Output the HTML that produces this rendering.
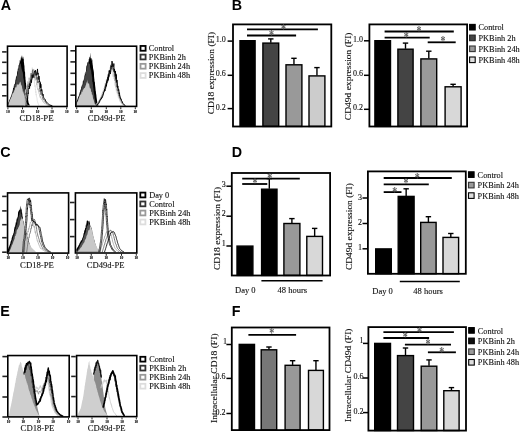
<!DOCTYPE html>
<html><head><meta charset="utf-8"><title>Figure</title>
<style>
html,body{margin:0;padding:0;background:#fff;}
body{width:520px;height:432px;overflow:hidden;}
svg{display:block;filter:blur(0.35px);}
svg text{font-family:"Liberation Serif",serif;fill:#111;stroke:#111;stroke-width:0.12px;}
svg text.st{fill:#4a4a4a;stroke:#4a4a4a;stroke-width:0.15px;}
svg text.pl{font-family:"Liberation Sans",sans-serif;font-weight:bold;fill:#000;stroke:none;}
</style></head><body>
<svg width="520" height="432" viewBox="0 0 520 432">
<rect x="0" y="0" width="520" height="432" fill="#fff"/>
<g>
<text class="pl" x="0.8" y="10.2" font-size="14.3">A</text>
<text class="pl" x="231.8" y="10.1" font-size="14.3">B</text>
<text class="pl" x="0.2" y="156.5" font-size="14.3">C</text>
<text class="pl" x="231.7" y="156.5" font-size="14.3">D</text>
<text class="pl" x="0.2" y="315.9" font-size="14.3">E</text>
<text class="pl" x="231.7" y="315.9" font-size="14.3">F</text>
<path d="M8.00,105.60 L8.00,105.60 L8.10,104.67 L8.20,103.78 L8.30,102.93 L8.63,101.89 L8.96,101.37 L9.29,100.25 L9.62,99.55 L9.95,99.01 L10.28,97.75 L10.61,97.45 L10.94,96.16 L11.27,95.83 L11.60,95.01 L11.86,93.63 L12.12,92.06 L12.38,92.41 L12.63,91.37 L12.89,89.68 L13.15,88.07 L13.41,87.98 L13.67,87.52 L13.92,85.17 L14.18,86.69 L14.44,83.60 L14.70,84.31 L14.89,83.88 L15.08,83.11 L15.27,81.65 L15.47,79.07 L15.66,80.35 L15.85,78.06 L16.04,76.94 L16.23,77.06 L16.43,75.49 L16.62,76.56 L16.81,75.73 L17.00,74.27 L17.23,71.29 L17.46,71.51 L17.69,71.14 L17.92,68.95 L18.15,68.68 L18.38,68.55 L18.61,65.12 L18.84,64.67 L19.07,66.19 L19.30,63.49 L19.56,62.88 L19.81,59.99 L20.07,59.92 L20.33,61.65 L20.59,56.59 L20.84,61.00 L21.10,58.27 L21.40,55.18 L21.70,58.20 L22.00,55.07 L22.50,59.25 L23.00,56.43 L23.27,56.96 L23.53,59.26 L23.80,58.58 L23.89,62.85 L23.98,61.64 L24.07,63.20 L24.16,64.26 L24.25,65.89 L24.35,64.89 L24.44,65.38 L24.53,68.71 L24.62,68.77 L24.71,72.56 L24.80,70.59 L24.90,71.83 L25.00,71.35 L25.10,73.09 L25.20,76.25 L25.30,76.80 L25.40,76.71 L25.50,80.03 L25.60,79.41 L25.70,81.37 L25.80,82.46 L25.90,83.56 L26.01,82.38 L26.12,85.20 L26.23,85.80 L26.34,86.37 L26.45,86.15 L26.55,89.01 L26.66,89.12 L26.77,89.88 L26.88,90.21 L26.99,91.35 L27.10,92.29 L27.24,94.15 L27.37,94.82 L27.51,95.79 L27.65,96.04 L27.78,96.90 L27.92,98.64 L28.05,99.47 L28.19,100.29 L28.33,101.16 L28.46,101.91 L28.60,102.77 L29.07,103.79 L29.53,104.67 L30.00,105.60 L30.00,105.60 Z" fill="#000" stroke="none" stroke-width="0.8" stroke-linejoin="round"/>
<path d="M8.20,105.60 L8.20,105.60 L8.47,104.67 L8.73,103.90 L9.00,102.84 L9.31,101.99 L9.62,100.96 L9.93,99.69 L10.24,99.02 L10.55,98.33 L10.85,97.29 L11.16,96.28 L11.47,96.45 L11.78,94.02 L12.09,93.31 L12.40,92.17 L12.66,91.39 L12.92,91.47 L13.18,90.57 L13.43,90.53 L13.69,88.10 L13.95,88.99 L14.21,88.14 L14.47,86.81 L14.72,86.13 L14.98,84.61 L15.24,84.87 L15.50,84.26 L15.69,82.80 L15.88,82.18 L16.07,80.15 L16.27,80.89 L16.46,75.91 L16.65,76.27 L16.84,77.79 L17.03,76.40 L17.23,75.02 L17.42,74.06 L17.61,74.60 L17.80,69.41 L18.01,67.47 L18.23,69.74 L18.44,68.65 L18.66,70.33 L18.87,69.30 L19.09,66.69 L19.30,66.30 L20.80,63.07 L21.10,68.66 L21.40,70.46 L21.70,65.19 L22.00,68.90 L22.30,72.21 L22.43,70.64 L22.56,74.61 L22.69,72.54 L22.82,70.91 L22.95,72.51 L23.08,74.36 L23.21,77.53 L23.34,77.87 L23.47,79.71 L23.60,77.73 L23.70,79.78 L23.80,79.64 L23.90,82.50 L24.00,83.84 L24.10,82.45 L24.20,82.79 L24.30,84.26 L24.40,85.41 L24.50,86.35 L24.60,87.57 L24.73,90.10 L24.87,90.29 L25.00,91.71 L25.13,93.46 L25.27,94.40 L25.40,94.83 L25.53,95.77 L25.67,95.95 L25.80,96.53 L25.93,98.20 L26.07,98.56 L26.20,99.52 L26.33,100.56 L26.47,101.96 L26.60,102.94 L26.73,103.82 L26.87,104.67 L27.00,105.60 L27.00,105.60 Z" fill="#444" stroke="none" stroke-width="0.8" stroke-linejoin="round"/>
<path d="M8.20,105.60 L8.20,105.60 L8.40,104.60 L8.60,103.71 L8.97,102.89 L9.35,101.79 L9.72,100.69 L10.10,99.82 L10.47,99.31 L10.85,98.23 L11.22,97.14 L11.60,97.35 L11.99,95.56 L12.38,94.21 L12.76,93.54 L13.15,92.71 L13.54,92.44 L13.92,92.32 L14.31,89.90 L14.70,90.27 L15.14,88.09 L15.57,86.69 L16.01,87.65 L16.44,86.82 L16.88,84.09 L17.31,84.01 L17.75,85.25 L18.52,84.58 L19.30,83.64 L20.05,81.50 L20.80,82.83 L21.10,86.15 L21.40,84.58 L21.70,84.97 L22.00,86.94 L22.30,88.76 L22.53,89.03 L22.76,91.05 L22.99,92.17 L23.21,90.64 L23.44,92.32 L23.67,93.47 L23.90,93.55 L24.15,95.42 L24.40,95.58 L24.65,96.61 L24.90,98.39 L25.15,99.19 L25.40,100.01 L25.80,100.97 L26.20,101.64 L26.60,102.77 L27.00,103.63 L27.50,104.60 L28.00,105.60 L28.00,105.60 Z" fill="#c8c8c8" stroke="none" stroke-width="0.8" stroke-linejoin="round"/>
<path d="M24.50,105.60 L24.74,104.64 L24.98,103.84 L25.22,102.46 L25.46,101.88 L25.70,100.84 L25.94,99.73 L26.18,98.28 L26.42,98.05 L26.66,96.17 L26.90,96.00 L27.13,95.01 L27.36,94.10 L27.59,94.55 L27.82,92.49 L28.05,92.39 L28.28,92.13 L28.51,88.50 L28.74,89.86 L28.97,87.82 L29.20,85.87 L29.35,85.66 L29.50,85.79 L29.65,84.01 L29.80,82.93 L29.95,80.84 L30.10,83.50 L30.25,80.17 L30.40,81.04 L30.55,80.02 L30.70,76.13 L30.85,76.85 L31.00,75.60 L31.19,73.28 L31.37,71.19 L31.56,73.49 L31.74,71.29 L31.93,71.10 L32.11,70.08 L32.30,67.66 L32.60,70.52 L32.90,70.85 L33.20,72.21 L33.50,69.83 L33.61,72.53 L33.72,72.29 L33.83,72.86 L33.94,78.21 L34.05,77.23 L34.16,75.88 L34.27,77.48 L34.38,82.37 L34.49,83.30 L34.60,82.50 L34.72,85.25 L34.83,85.31 L34.95,86.95 L35.06,85.22 L35.18,85.72 L35.29,86.28 L35.41,90.05 L35.52,88.95 L35.64,90.12 L35.75,92.69 L35.87,91.42 L35.98,92.21 L36.10,95.09 L36.29,94.33 L36.48,96.51 L36.66,97.27 L36.85,97.40 L37.04,98.68 L37.23,100.51 L37.41,101.12 L37.60,101.99 L37.95,103.00 L38.30,103.92 L38.65,104.70 L39.00,105.60" fill="none" stroke="#ddd" stroke-width="0.8" stroke-linejoin="round" stroke-linecap="round"/>
<path d="M24.10,105.60 L24.22,104.58 L24.33,103.68 L24.45,102.29 L24.57,102.20 L24.68,100.39 L24.80,99.59 L24.89,99.71 L24.98,98.04 L25.07,96.22 L25.16,95.62 L25.24,96.38 L25.33,91.74 L25.42,91.51 L25.51,89.57 L25.60,92.95 L25.89,91.31 L26.17,91.81 L26.46,86.55 L26.75,88.84 L27.04,88.98 L27.32,86.15 L27.61,81.70 L27.90,81.39 L28.28,84.92 L28.67,85.06 L29.05,77.75 L29.43,79.87 L29.82,77.82 L30.20,82.69 L30.73,82.20 L31.27,75.06 L31.80,76.80 L32.27,79.73 L32.75,69.42 L33.23,71.85 L33.70,68.98 L34.70,78.53 L35.00,70.99 L35.30,80.35 L35.60,73.09 L35.79,78.11 L35.98,80.07 L36.16,78.93 L36.35,76.50 L36.54,83.18 L36.73,85.14 L36.91,82.74 L37.10,85.84 L37.29,87.59 L37.48,87.99 L37.66,89.51 L37.85,89.29 L38.04,89.40 L38.23,90.27 L38.41,88.60 L38.60,91.99 L38.89,91.80 L39.18,94.16 L39.46,94.24 L39.75,96.37 L40.04,96.28 L40.33,97.87 L40.61,96.48 L40.90,97.93 L41.42,99.62 L41.93,99.76 L42.45,99.76 L42.97,101.94 L43.48,101.79 L44.00,103.06 L44.75,103.51 L45.50,103.83 L46.25,104.53 L47.00,105.04 L48.10,105.32 L49.20,105.60" fill="none" stroke="#bbb" stroke-width="0.8" stroke-linejoin="round" stroke-linecap="round"/>
<path d="M25.50,105.60 L25.60,104.66 L25.70,103.79 L25.80,102.76 L25.90,101.58 L26.00,100.09 L26.10,100.26 L26.20,98.23 L26.28,97.53 L26.36,96.76 L26.44,96.55 L26.52,95.87 L26.60,96.16 L26.68,95.06 L26.76,94.53 L26.84,90.46 L26.92,92.00 L27.00,91.67 L27.29,91.30 L27.57,85.77 L27.86,84.52 L28.15,84.82 L28.44,86.63 L28.73,86.05 L29.01,84.79 L29.30,82.53 L29.68,84.23 L30.07,80.88 L30.45,81.68 L30.83,74.21 L31.22,73.06 L31.60,76.32 L32.13,78.48 L32.67,69.75 L33.20,75.93 L33.68,74.50 L34.15,77.82 L34.62,72.39 L35.10,70.32 L35.60,70.72 L36.10,75.09 L36.40,72.48 L36.70,79.15 L37.00,77.17 L37.19,79.89 L37.38,77.53 L37.56,81.99 L37.75,82.97 L37.94,81.16 L38.12,82.68 L38.31,80.52 L38.50,81.96 L38.69,81.17 L38.88,82.91 L39.06,83.49 L39.25,83.38 L39.44,87.68 L39.62,88.98 L39.81,85.99 L40.00,91.75 L40.29,89.59 L40.58,91.03 L40.86,94.76 L41.15,92.24 L41.44,93.10 L41.73,95.13 L42.01,95.79 L42.30,96.61 L42.82,99.30 L43.33,99.21 L43.85,100.14 L44.37,100.49 L44.88,101.52 L45.40,102.48 L46.15,103.28 L46.90,103.66 L47.65,104.45 L48.40,105.00 L49.50,105.30 L50.60,105.60" fill="none" stroke="#666" stroke-width="0.8" stroke-linejoin="round" stroke-linecap="round"/>
<path d="M26.90,105.60 L27.00,104.66 L27.10,103.61 L27.20,102.60 L27.30,102.14 L27.40,101.57 L27.50,100.58 L27.60,99.28 L27.68,99.00 L27.76,96.29 L27.84,96.07 L27.92,94.92 L28.00,93.96 L28.08,92.81 L28.16,92.60 L28.24,93.78 L28.32,89.36 L28.40,88.59 L28.69,88.83 L28.97,87.71 L29.26,86.03 L29.55,88.62 L29.84,83.55 L30.12,85.74 L30.41,86.09 L30.70,83.89 L31.08,79.58 L31.47,82.69 L31.85,77.57 L32.23,74.64 L32.62,77.75 L33.00,77.84 L33.53,75.99 L34.07,73.06 L34.60,71.19 L35.08,71.67 L35.55,70.42 L36.02,75.46 L36.50,73.87 L37.00,73.39 L37.50,68.95 L37.80,74.53 L38.10,72.90 L38.40,79.25 L38.59,79.62 L38.77,78.57 L38.96,75.96 L39.15,76.79 L39.34,77.93 L39.52,81.93 L39.71,81.13 L39.90,82.45 L40.09,83.38 L40.27,86.63 L40.46,82.56 L40.65,87.82 L40.84,84.20 L41.02,85.52 L41.21,91.34 L41.40,90.00 L41.69,89.30 L41.98,89.72 L42.26,92.89 L42.55,94.50 L42.84,95.59 L43.12,94.20 L43.41,97.34 L43.70,97.30 L44.22,99.18 L44.73,99.22 L45.25,99.39 L45.77,101.55 L46.28,101.55 L46.80,102.79 L47.55,103.08 L48.30,103.79 L49.05,104.45 L49.80,105.00 L50.90,105.30 L52.00,105.60" fill="none" stroke="#000" stroke-width="0.9" stroke-linejoin="round" stroke-linecap="round"/>
<rect x="7.50" y="46.20" width="59.60" height="60.30" fill="none" stroke="#000" stroke-width="1.6"/>
<line x1="2.1000000000000005" y1="51.9" x2="6.7" y2="51.9" stroke="#222" stroke-width="1.6"/>
<line x1="2.1000000000000005" y1="62.3" x2="6.7" y2="62.3" stroke="#222" stroke-width="1.6"/>
<line x1="2.1000000000000005" y1="73.3" x2="6.7" y2="73.3" stroke="#222" stroke-width="1.6"/>
<line x1="2.1000000000000005" y1="84.8" x2="6.7" y2="84.8" stroke="#222" stroke-width="1.6"/>
<line x1="2.1000000000000005" y1="95.8" x2="6.7" y2="95.8" stroke="#222" stroke-width="1.6"/>
<line x1="7.9" y1="107.3" x2="7.9" y2="109.3" stroke="#222" stroke-width="1.0"/>
<text x="7.9" y="112.7" font-size="3.6" font-weight="bold" text-anchor="middle" style="fill:#000">10</text>
<line x1="22.5" y1="107.3" x2="22.5" y2="109.3" stroke="#222" stroke-width="1.0"/>
<text x="22.5" y="112.7" font-size="3.6" font-weight="bold" text-anchor="middle" style="fill:#000">10</text>
<line x1="37.5" y1="107.3" x2="37.5" y2="109.3" stroke="#222" stroke-width="1.0"/>
<text x="37.5" y="112.7" font-size="3.6" font-weight="bold" text-anchor="middle" style="fill:#000">10</text>
<line x1="52" y1="107.3" x2="52" y2="109.3" stroke="#222" stroke-width="1.0"/>
<text x="52" y="112.7" font-size="3.6" font-weight="bold" text-anchor="middle" style="fill:#000">10</text>
<line x1="66.7" y1="107.3" x2="66.7" y2="109.3" stroke="#222" stroke-width="1.0"/>
<text x="66.7" y="112.7" font-size="3.6" font-weight="bold" text-anchor="middle" style="fill:#000">10</text>
<path d="M76.20,105.40 L76.20,105.40 L76.27,104.27 L76.33,103.21 L76.40,101.82 L76.75,101.06 L77.10,100.43 L77.45,99.56 L77.80,98.21 L78.15,97.30 L78.50,96.54 L78.85,95.83 L79.20,94.63 L79.50,93.77 L79.80,91.99 L80.10,92.56 L80.40,90.25 L80.70,89.13 L81.00,89.74 L81.30,87.02 L81.60,86.56 L81.90,85.15 L82.20,85.81 L82.43,84.69 L82.66,83.73 L82.89,81.00 L83.12,81.31 L83.35,81.13 L83.58,80.00 L83.81,79.63 L84.04,79.57 L84.27,78.51 L84.50,74.81 L84.73,76.04 L84.96,72.47 L85.19,74.40 L85.42,73.44 L85.65,71.45 L85.88,72.01 L86.11,70.26 L86.34,66.53 L86.57,65.91 L86.80,65.31 L87.09,65.27 L87.38,62.80 L87.66,61.64 L87.95,62.83 L88.24,60.90 L88.52,63.83 L88.81,58.87 L89.10,59.60 L89.40,56.87 L89.70,56.67 L90.00,58.09 L90.30,58.81 L90.60,52.16 L91.05,58.67 L91.50,57.68 L91.73,59.57 L91.97,60.92 L92.20,59.39 L92.33,58.94 L92.45,63.94 L92.58,62.61 L92.70,65.45 L92.83,64.95 L92.95,66.70 L93.08,68.73 L93.20,69.61 L93.33,70.24 L93.45,67.80 L93.58,70.62 L93.70,72.75 L93.80,70.71 L93.89,71.35 L93.99,74.62 L94.08,76.82 L94.18,77.54 L94.27,78.85 L94.37,78.87 L94.46,80.69 L94.56,81.12 L94.65,82.00 L94.75,81.99 L94.86,82.04 L94.98,83.45 L95.09,85.35 L95.20,86.31 L95.32,87.01 L95.43,88.32 L95.55,89.36 L95.66,90.87 L95.77,91.38 L95.89,91.10 L96.00,93.52 L96.12,93.80 L96.24,94.54 L96.36,95.16 L96.48,96.87 L96.60,97.69 L96.72,98.59 L96.84,99.35 L96.96,100.22 L97.08,100.83 L97.20,101.84 L97.53,102.72 L97.85,103.81 L98.17,104.55 L98.50,105.40 L98.50,105.40 Z" fill="#000" stroke="none" stroke-width="0.8" stroke-linejoin="round"/>
<path d="M76.40,105.40 L76.40,105.40 L76.70,104.10 L77.00,103.01 L77.30,101.79 L77.60,100.74 L77.90,100.18 L78.20,99.19 L78.50,99.02 L78.80,97.67 L79.10,95.98 L79.40,95.21 L79.70,94.22 L80.00,93.05 L80.27,93.64 L80.55,93.09 L80.82,92.13 L81.09,90.30 L81.36,88.94 L81.64,87.24 L81.91,86.94 L82.18,86.24 L82.45,84.91 L82.73,85.06 L83.00,83.81 L83.23,84.90 L83.45,81.03 L83.68,82.41 L83.91,78.51 L84.14,78.79 L84.36,79.47 L84.59,79.45 L84.82,77.98 L85.05,75.11 L85.27,73.84 L85.50,76.14 L85.69,75.55 L85.88,72.08 L86.07,70.84 L86.26,71.13 L86.44,71.30 L86.63,68.01 L86.82,71.02 L87.01,68.23 L87.20,66.27 L88.30,61.30 L89.05,64.28 L89.80,63.34 L90.07,67.17 L90.33,69.75 L90.60,70.62 L90.87,67.13 L91.13,69.76 L91.40,73.13 L91.51,75.64 L91.62,73.83 L91.73,73.79 L91.84,76.06 L91.95,77.78 L92.05,76.63 L92.16,76.34 L92.27,80.53 L92.38,82.25 L92.49,81.78 L92.60,82.33 L92.71,82.19 L92.82,84.96 L92.93,83.65 L93.04,84.80 L93.15,86.53 L93.25,88.39 L93.36,86.95 L93.47,89.81 L93.58,89.32 L93.69,91.77 L93.80,92.66 L93.95,92.43 L94.10,94.41 L94.25,94.17 L94.40,96.01 L94.55,97.46 L94.70,98.36 L94.85,99.09 L95.00,99.84 L95.17,100.54 L95.33,102.02 L95.50,102.75 L95.67,103.69 L95.83,104.50 L96.00,105.40 L96.00,105.40 Z" fill="#444" stroke="none" stroke-width="0.8" stroke-linejoin="round"/>
<path d="M76.40,105.40 L76.40,105.40 L76.65,104.10 L76.90,102.58 L77.28,102.18 L77.66,101.46 L78.04,100.68 L78.42,99.55 L78.80,98.12 L79.18,97.24 L79.56,96.57 L79.94,95.26 L80.32,94.47 L80.70,94.73 L81.12,94.21 L81.54,91.74 L81.97,91.28 L82.39,92.21 L82.81,89.74 L83.23,89.68 L83.66,88.86 L84.08,88.17 L84.50,87.88 L85.02,87.61 L85.53,85.79 L86.05,84.66 L86.57,81.42 L87.08,83.83 L87.60,79.44 L87.98,83.49 L88.37,83.76 L88.75,82.89 L89.13,83.84 L89.52,86.13 L89.90,88.28 L90.19,87.83 L90.48,89.07 L90.76,88.49 L91.05,91.40 L91.34,91.88 L91.62,91.60 L91.91,94.44 L92.20,94.57 L92.44,94.78 L92.69,95.84 L92.93,97.86 L93.18,98.73 L93.42,99.55 L93.67,99.60 L93.91,101.12 L94.16,101.71 L94.40,102.62 L94.77,103.72 L95.13,104.53 L95.50,105.40 L95.50,105.40 Z" fill="#c8c8c8" stroke="none" stroke-width="0.8" stroke-linejoin="round"/>
<path d="M95.20,105.40 L95.87,104.64 L96.53,103.97 L97.20,102.84 L97.74,102.15 L98.29,101.63 L98.83,100.23 L99.37,99.92 L99.91,99.17 L100.46,98.89 L101.00,96.48 L101.34,95.13 L101.69,94.90 L102.03,93.08 L102.38,94.98 L102.72,93.49 L103.07,91.79 L103.41,89.05 L103.76,88.07 L104.10,89.52 L104.36,89.27 L104.61,87.57 L104.87,86.37 L105.12,83.18 L105.38,86.28 L105.63,81.90 L105.89,81.31 L106.14,79.83 L106.40,79.17 L106.69,79.29 L106.98,80.28 L107.26,79.46 L107.55,78.27 L107.84,74.15 L108.12,78.73 L108.41,76.94 L108.70,71.42 L109.08,74.72 L109.45,75.41 L109.83,74.80 L110.20,69.00 L111.00,70.22 L111.80,64.25 L112.03,66.17 L112.27,66.20 L112.50,73.66 L112.73,76.08 L112.97,76.77 L113.20,74.26 L113.38,73.46 L113.56,76.44 L113.73,78.92 L113.91,78.41 L114.09,77.85 L114.27,78.40 L114.44,78.84 L114.62,79.16 L114.80,81.25 L114.97,85.38 L115.13,82.13 L115.30,86.07 L115.47,85.51 L115.63,87.38 L115.80,86.54 L115.97,89.89 L116.13,90.52 L116.30,91.36 L116.56,92.55 L116.81,90.81 L117.07,92.80 L117.32,94.48 L117.58,95.14 L117.83,94.49 L118.09,96.63 L118.34,98.11 L118.60,97.88 L119.06,99.14 L119.52,99.65 L119.98,101.68 L120.44,102.20 L120.90,102.92 L121.67,103.74 L122.43,104.64 L123.20,105.40" fill="none" stroke="#ddd" stroke-width="0.8" stroke-linejoin="round" stroke-linecap="round"/>
<path d="M95.90,105.40 L96.57,104.59 L97.23,103.61 L97.90,103.28 L98.38,102.36 L98.85,101.78 L99.33,100.97 L99.80,99.07 L100.28,98.83 L100.75,97.35 L101.23,97.64 L101.70,95.71 L102.01,95.85 L102.32,95.54 L102.63,93.19 L102.94,91.74 L103.25,93.69 L103.56,91.13 L103.87,90.17 L104.18,90.96 L104.49,89.52 L104.80,89.74 L105.06,88.58 L105.31,87.44 L105.57,84.72 L105.82,83.45 L106.08,85.08 L106.33,85.37 L106.59,82.54 L106.84,79.32 L107.10,81.70 L107.36,80.00 L107.61,79.97 L107.87,74.72 L108.12,75.70 L108.38,78.69 L108.63,77.61 L108.89,74.35 L109.14,72.17 L109.40,70.50 L109.70,74.60 L110.00,73.16 L110.30,67.30 L110.60,69.19 L110.90,69.63 L111.70,68.41 L112.50,62.19 L112.73,69.62 L112.97,68.05 L113.20,70.99 L113.43,71.35 L113.67,68.28 L113.90,68.16 L114.08,74.57 L114.26,76.84 L114.43,73.49 L114.61,78.52 L114.79,80.86 L114.97,75.23 L115.14,79.59 L115.32,77.85 L115.50,81.55 L115.67,79.52 L115.83,83.08 L116.00,85.72 L116.17,87.39 L116.33,85.43 L116.50,85.95 L116.67,85.67 L116.83,90.37 L117.00,88.98 L117.26,90.96 L117.51,91.38 L117.77,93.57 L118.02,93.99 L118.28,94.19 L118.53,94.06 L118.79,97.11 L119.04,97.12 L119.30,97.46 L119.68,98.07 L120.07,100.15 L120.45,101.00 L120.83,100.86 L121.22,101.75 L121.60,102.99 L122.37,103.98 L123.13,104.59 L123.90,105.40" fill="none" stroke="#aaa" stroke-width="0.8" stroke-linejoin="round" stroke-linecap="round"/>
<path d="M96.50,105.40 L97.17,104.56 L97.83,103.53 L98.50,102.95 L98.97,101.68 L99.45,101.07 L99.92,99.94 L100.40,100.06 L100.88,98.19 L101.35,98.41 L101.83,97.23 L102.30,95.34 L102.61,94.42 L102.92,95.34 L103.23,94.42 L103.54,92.99 L103.85,91.71 L104.16,91.33 L104.47,91.54 L104.78,90.21 L105.09,87.22 L105.40,85.47 L105.63,88.76 L105.86,85.25 L106.09,83.27 L106.32,86.42 L106.55,80.89 L106.78,84.36 L107.01,80.47 L107.24,79.89 L107.47,78.45 L107.70,79.81 L107.96,78.12 L108.21,76.00 L108.47,76.30 L108.72,73.53 L108.98,74.35 L109.23,73.53 L109.49,76.29 L109.74,70.12 L110.00,70.38 L110.30,71.91 L110.60,65.93 L110.90,64.82 L111.20,67.14 L111.50,69.17 L112.30,65.04 L113.10,69.32 L113.33,69.98 L113.57,67.82 L113.80,72.12 L114.03,69.65 L114.27,69.98 L114.50,75.23 L114.68,70.84 L114.86,76.59 L115.03,72.07 L115.21,72.76 L115.39,75.88 L115.57,80.29 L115.74,77.90 L115.92,79.76 L116.10,76.85 L116.25,83.15 L116.40,79.44 L116.55,79.58 L116.70,82.11 L116.85,82.60 L117.00,86.87 L117.15,83.69 L117.30,87.07 L117.45,85.81 L117.60,86.99 L117.83,91.09 L118.06,89.47 L118.29,89.91 L118.52,93.88 L118.75,93.75 L118.98,93.41 L119.21,95.99 L119.44,94.96 L119.67,97.35 L119.90,97.10 L120.28,99.23 L120.67,99.45 L121.05,99.74 L121.43,101.49 L121.82,102.23 L122.20,102.87 L122.97,103.80 L123.73,104.56 L124.50,105.40" fill="none" stroke="#555" stroke-width="0.8" stroke-linejoin="round" stroke-linecap="round"/>
<path d="M97.00,105.40 L97.67,104.53 L98.33,103.84 L99.00,102.98 L99.47,102.20 L99.95,100.66 L100.42,100.01 L100.90,98.82 L101.38,98.99 L101.85,97.14 L102.33,97.49 L102.80,95.84 L103.11,94.68 L103.42,94.43 L103.73,92.17 L104.04,92.10 L104.35,91.10 L104.66,89.18 L104.97,90.91 L105.28,86.80 L105.59,87.20 L105.90,87.23 L106.13,84.60 L106.36,86.02 L106.59,81.74 L106.82,82.74 L107.05,82.91 L107.28,79.88 L107.51,80.68 L107.74,81.29 L107.97,77.08 L108.20,80.36 L108.46,74.64 L108.71,77.34 L108.97,73.86 L109.22,70.51 L109.48,72.32 L109.73,70.80 L109.99,72.48 L110.24,74.00 L110.50,72.91 L110.80,71.14 L111.10,66.39 L111.40,67.02 L111.70,65.41 L112.00,61.05 L112.80,66.89 L113.60,66.39 L113.83,63.55 L114.07,70.08 L114.30,71.16 L114.53,69.16 L114.77,72.14 L115.00,71.11 L115.16,73.00 L115.32,71.20 L115.48,72.09 L115.64,75.71 L115.80,73.71 L115.96,75.63 L116.12,78.70 L116.28,74.58 L116.44,79.72 L116.60,81.13 L116.75,82.28 L116.90,80.20 L117.05,79.94 L117.20,81.38 L117.35,84.17 L117.50,85.70 L117.65,87.67 L117.80,85.86 L117.95,87.13 L118.10,88.86 L118.33,88.70 L118.56,90.33 L118.79,89.68 L119.02,91.29 L119.25,93.59 L119.48,92.79 L119.71,95.81 L119.94,95.59 L120.17,96.76 L120.40,97.96 L120.78,99.07 L121.17,98.89 L121.55,100.71 L121.93,100.98 L122.32,101.58 L122.70,103.00 L123.47,103.78 L124.23,104.53 L125.00,105.40" fill="none" stroke="#000" stroke-width="0.9" stroke-linejoin="round" stroke-linecap="round"/>
<rect x="75.80" y="46.20" width="60.80" height="60.20" fill="none" stroke="#000" stroke-width="1.6"/>
<line x1="70.4" y1="50.8" x2="75.0" y2="50.8" stroke="#222" stroke-width="1.6"/>
<line x1="70.4" y1="61.9" x2="75.0" y2="61.9" stroke="#222" stroke-width="1.6"/>
<line x1="70.4" y1="73.3" x2="75.0" y2="73.3" stroke="#222" stroke-width="1.6"/>
<line x1="70.4" y1="84.4" x2="75.0" y2="84.4" stroke="#222" stroke-width="1.6"/>
<line x1="70.4" y1="95.2" x2="75.0" y2="95.2" stroke="#222" stroke-width="1.6"/>
<line x1="76.7" y1="107.2" x2="76.7" y2="109.2" stroke="#222" stroke-width="1.0"/>
<text x="76.7" y="112.60000000000001" font-size="3.6" font-weight="bold" text-anchor="middle" style="fill:#000">10</text>
<line x1="91.3" y1="107.2" x2="91.3" y2="109.2" stroke="#222" stroke-width="1.0"/>
<text x="91.3" y="112.60000000000001" font-size="3.6" font-weight="bold" text-anchor="middle" style="fill:#000">10</text>
<line x1="106.3" y1="107.2" x2="106.3" y2="109.2" stroke="#222" stroke-width="1.0"/>
<text x="106.3" y="112.60000000000001" font-size="3.6" font-weight="bold" text-anchor="middle" style="fill:#000">10</text>
<line x1="120.8" y1="107.2" x2="120.8" y2="109.2" stroke="#222" stroke-width="1.0"/>
<text x="120.8" y="112.60000000000001" font-size="3.6" font-weight="bold" text-anchor="middle" style="fill:#000">10</text>
<line x1="135.3" y1="107.2" x2="135.3" y2="109.2" stroke="#222" stroke-width="1.0"/>
<text x="135.3" y="112.60000000000001" font-size="3.6" font-weight="bold" text-anchor="middle" style="fill:#000">10</text>
<text x="36.5" y="121.3" font-size="8.8" text-anchor="middle" >CD18-PE</text>
<text x="106.6" y="121.3" font-size="8.6" text-anchor="middle" >CD49d-PE</text>
<rect x="140.50" y="45.95" width="5.10" height="4.80" fill="#fff" stroke="#000" stroke-width="1.8"/>
<text x="148.8" y="51.25" font-size="8.3" text-anchor="start" >Control</text>
<rect x="140.50" y="54.60" width="5.10" height="4.80" fill="#fff" stroke="#333" stroke-width="1.8"/>
<text x="148.8" y="59.9" font-size="8.3" text-anchor="start" >PKBinh 2h</text>
<rect x="140.50" y="63.85" width="5.10" height="4.80" fill="#fff" stroke="#999" stroke-width="1.8"/>
<text x="148.8" y="69.15" font-size="8.3" text-anchor="start" >PKBinh 24h</text>
<rect x="140.50" y="73.10" width="5.10" height="4.80" fill="#fff" stroke="#ddd" stroke-width="1.8"/>
<text x="148.8" y="78.4" font-size="8.3" text-anchor="start" >PKBinh 48h</text>
<rect x="240.00" y="40.70" width="15.10" height="85.70" fill="#000" stroke="#000" stroke-width="1.4"/>
<line x1="270.79999999999995" y1="42.7" x2="270.79999999999995" y2="38.9" stroke="#000" stroke-width="1.4"/>
<line x1="268.09999999999997" y1="38.9" x2="273.49999999999994" y2="38.9" stroke="#000" stroke-width="1.4"/>
<rect x="262.90" y="43.10" width="15.80" height="83.30" fill="#444" stroke="#000" stroke-width="1.4"/>
<line x1="293.95000000000005" y1="64.4" x2="293.95000000000005" y2="58.3" stroke="#000" stroke-width="1.4"/>
<line x1="291.25000000000006" y1="58.3" x2="296.65000000000003" y2="58.3" stroke="#000" stroke-width="1.4"/>
<rect x="286.00" y="64.80" width="15.90" height="61.60" fill="#999" stroke="#000" stroke-width="1.4"/>
<line x1="316.95000000000005" y1="75.5" x2="316.95000000000005" y2="67.6" stroke="#000" stroke-width="1.4"/>
<line x1="314.25000000000006" y1="67.6" x2="319.65000000000003" y2="67.6" stroke="#000" stroke-width="1.4"/>
<rect x="309.00" y="75.90" width="15.90" height="50.50" fill="#ccc" stroke="#000" stroke-width="1.4"/>
<rect x="233.00" y="24.40" width="98.30" height="102.10" fill="none" stroke="#000" stroke-width="1.8"/>
<line x1="227.6" y1="41.1" x2="232.6" y2="41.1" stroke="#000" stroke-width="1.5"/>
<text x="225.79999999999998" y="42.1" font-size="8" text-anchor="end" >1.0</text>
<line x1="227.6" y1="75.3" x2="232.6" y2="75.3" stroke="#000" stroke-width="1.5"/>
<text x="225.79999999999998" y="76.3" font-size="8" text-anchor="end" >0.6</text>
<line x1="227.6" y1="108.6" x2="232.6" y2="108.6" stroke="#000" stroke-width="1.5"/>
<text x="225.79999999999998" y="109.6" font-size="8" text-anchor="end" >0.2</text>
<text transform="translate(213.5 114.3) rotate(-90)" font-size="8.3" textLength="82.4" lengthAdjust="spacingAndGlyphs">CD18 expression (FI)</text>
<line x1="247" y1="29.4" x2="317.9" y2="29.4" stroke="#000" stroke-width="1.8"/>
<text class="st" transform="translate(283.5 28.00) scale(0.86 1.18)" x="0" y="5.40" font-size="11.5" text-anchor="middle">*</text>
<line x1="247" y1="35.5" x2="296.1" y2="35.5" stroke="#000" stroke-width="1.8"/>
<text class="st" transform="translate(271.4 33.40) scale(0.86 1.18)" x="0" y="5.40" font-size="11.5" text-anchor="middle">*</text>
<rect x="374.90" y="40.70" width="15.60" height="85.70" fill="#000" stroke="#000" stroke-width="1.4"/>
<line x1="405.5" y1="48.8" x2="405.5" y2="43.1" stroke="#000" stroke-width="1.4"/>
<line x1="402.8" y1="43.1" x2="408.2" y2="43.1" stroke="#000" stroke-width="1.4"/>
<rect x="397.90" y="49.20" width="15.20" height="77.20" fill="#444" stroke="#000" stroke-width="1.4"/>
<line x1="428.79999999999995" y1="58.5" x2="428.79999999999995" y2="51.2" stroke="#000" stroke-width="1.4"/>
<line x1="426.09999999999997" y1="51.2" x2="431.49999999999994" y2="51.2" stroke="#000" stroke-width="1.4"/>
<rect x="420.90" y="58.90" width="15.80" height="67.50" fill="#999" stroke="#000" stroke-width="1.4"/>
<line x1="453.1" y1="86.4" x2="453.1" y2="84.3" stroke="#000" stroke-width="1.4"/>
<line x1="450.40000000000003" y1="84.3" x2="455.8" y2="84.3" stroke="#000" stroke-width="1.4"/>
<rect x="445.10" y="86.80" width="16.00" height="39.60" fill="#d8d8d8" stroke="#000" stroke-width="1.4"/>
<rect x="369.40" y="24.40" width="97.70" height="102.10" fill="none" stroke="#000" stroke-width="1.8"/>
<line x1="364.0" y1="40.8" x2="369.0" y2="40.8" stroke="#000" stroke-width="1.5"/>
<text x="362.9" y="41.599999999999994" font-size="8" text-anchor="end" >1.0</text>
<line x1="364.0" y1="75.3" x2="369.0" y2="75.3" stroke="#000" stroke-width="1.5"/>
<text x="362.9" y="76.1" font-size="8" text-anchor="end" >0.6</text>
<line x1="364.0" y1="109.3" x2="369.0" y2="109.3" stroke="#000" stroke-width="1.5"/>
<text x="362.9" y="110.1" font-size="8" text-anchor="end" >0.2</text>
<text transform="translate(350.8 120.2) rotate(-90)" font-size="8.3" textLength="87.7" lengthAdjust="spacingAndGlyphs">CD49d expression (FI)</text>
<line x1="384.6" y1="31.5" x2="453.8" y2="31.5" stroke="#000" stroke-width="1.8"/>
<text class="st" transform="translate(418.9 29.30) scale(0.86 1.18)" x="0" y="5.40" font-size="11.5" text-anchor="middle">*</text>
<line x1="384.6" y1="37.7" x2="429.7" y2="37.7" stroke="#000" stroke-width="1.8"/>
<text class="st" transform="translate(406.2 35.40) scale(0.86 1.18)" x="0" y="5.40" font-size="11.5" text-anchor="middle">*</text>
<line x1="427.7" y1="42.3" x2="455.7" y2="42.3" stroke="#000" stroke-width="1.8"/>
<text class="st" transform="translate(443 39.30) scale(0.86 1.18)" x="0" y="5.40" font-size="11.5" text-anchor="middle">*</text>
<rect x="469.60" y="24.40" width="5.60" height="5.60" fill="#000" stroke="#000" stroke-width="1.1"/>
<text x="478.5" y="30.3" font-size="8.3" text-anchor="start" >Control</text>
<rect x="469.60" y="35.10" width="5.60" height="5.60" fill="#444" stroke="#222" stroke-width="1.1"/>
<text x="478.5" y="41.0" font-size="8.3" text-anchor="start" >PKBinh 2h</text>
<rect x="469.60" y="46.00" width="5.60" height="5.60" fill="#999" stroke="#333" stroke-width="1.1"/>
<text x="478.5" y="51.9" font-size="8.3" text-anchor="start" >PKBinh 24h</text>
<rect x="469.60" y="57.00" width="5.60" height="5.60" fill="#ddd" stroke="#000" stroke-width="1.1"/>
<text x="478.5" y="62.9" font-size="8.3" text-anchor="start" >PKBinh 48h</text>
<path d="M7.60,252.00 L7.60,252.00 L7.70,250.95 L7.80,249.87 L8.14,248.96 L8.49,247.96 L8.83,246.90 L9.18,246.42 L9.52,245.40 L9.87,244.50 L10.21,243.88 L10.56,241.94 L10.90,241.11 L11.15,240.28 L11.40,240.52 L11.65,238.23 L11.90,237.48 L12.15,237.11 L12.40,235.64 L12.65,235.36 L12.90,235.00 L13.15,234.44 L13.40,233.27 L13.65,232.93 L13.90,231.26 L14.13,229.15 L14.36,228.37 L14.59,226.95 L14.82,226.42 L15.05,227.00 L15.28,225.09 L15.51,224.59 L15.74,222.35 L15.97,222.43 L16.20,222.54 L16.43,220.09 L16.66,217.78 L16.89,220.08 L17.12,216.21 L17.35,219.24 L17.58,217.22 L17.81,216.44 L18.04,213.02 L18.27,211.05 L18.50,211.11 L18.80,212.26 L19.10,208.17 L19.40,210.17 L20.10,210.05 L20.80,205.53 L21.07,208.19 L21.33,208.90 L21.60,210.11 L21.74,209.36 L21.88,212.96 L22.02,211.98 L22.16,213.62 L22.30,213.78 L22.49,216.74 L22.68,216.36 L22.87,218.02 L23.06,220.11 L23.24,221.43 L23.43,220.67 L23.62,223.78 L23.81,221.49 L24.00,225.31 L24.23,226.61 L24.46,227.20 L24.69,225.34 L24.92,228.19 L25.15,229.72 L25.38,230.94 L25.62,231.76 L25.85,230.86 L26.08,231.96 L26.31,232.74 L26.54,233.60 L26.77,236.05 L27.00,235.81 L27.27,237.18 L27.55,237.22 L27.82,238.17 L28.09,239.00 L28.36,241.20 L28.64,240.94 L28.91,241.84 L29.18,242.76 L29.45,244.59 L29.73,245.36 L30.00,246.31 L30.43,247.17 L30.86,247.52 L31.29,248.43 L31.71,249.38 L32.14,250.21 L32.57,251.14 L33.00,252.00 L33.00,252.00 Z" fill="#000" stroke="none" stroke-width="0.8" stroke-linejoin="round"/>
<path d="M8.80,252.00 L8.80,252.00 L9.04,251.12 L9.28,250.21 L9.52,249.43 L9.76,248.67 L10.00,247.83 L10.27,246.55 L10.54,246.10 L10.81,245.15 L11.09,244.19 L11.36,243.80 L11.63,242.68 L11.90,241.80 L12.17,240.30 L12.44,239.97 L12.71,239.20 L12.99,237.16 L13.26,237.14 L13.53,235.54 L13.80,235.14 L14.04,235.56 L14.28,233.77 L14.52,232.80 L14.76,230.99 L15.00,231.23 L15.24,229.28 L15.48,228.84 L15.72,228.94 L15.96,225.93 L16.20,227.59 L16.44,224.15 L16.68,225.56 L16.92,225.32 L17.16,223.68 L17.40,220.55 L17.63,218.69 L17.87,221.84 L18.10,218.84 L18.33,217.91 L18.57,215.56 L18.80,217.50 L19.03,215.09 L19.27,214.90 L19.50,211.50 L19.95,213.36 L20.40,208.60 L20.73,213.14 L21.07,214.47 L21.40,213.00 L21.58,215.01 L21.77,217.85 L21.95,216.37 L22.13,219.88 L22.32,217.75 L22.50,219.17 L22.73,219.73 L22.95,221.31 L23.18,223.29 L23.41,224.01 L23.64,224.93 L23.86,224.09 L24.09,227.76 L24.32,226.00 L24.55,229.67 L24.77,229.98 L25.00,230.69 L25.27,229.79 L25.55,231.82 L25.82,233.03 L26.09,232.71 L26.36,235.16 L26.64,235.54 L26.91,236.30 L27.18,236.78 L27.45,237.72 L27.73,238.84 L28.00,240.24 L28.33,241.14 L28.67,242.24 L29.00,242.24 L29.33,243.37 L29.67,244.20 L30.00,245.62 L30.33,246.27 L30.67,246.93 L31.00,247.96 L31.50,249.15 L32.00,250.01 L32.50,251.00 L33.00,252.00 L33.00,252.00 Z" fill="#444" stroke="none" stroke-width="0.8" stroke-linejoin="round"/>
<path d="M9.20,252.00 L9.20,252.00 L9.70,250.95 L10.20,249.79 L10.55,249.10 L10.89,248.26 L11.24,247.33 L11.58,246.15 L11.93,245.10 L12.27,244.84 L12.62,243.98 L12.96,243.01 L13.31,242.03 L13.65,240.87 L14.00,240.54 L14.30,239.37 L14.60,238.73 L14.90,236.31 L15.20,235.85 L15.50,236.27 L15.80,233.41 L16.10,234.53 L16.40,232.94 L16.70,230.42 L17.00,229.97 L17.31,229.27 L17.62,229.29 L17.93,229.19 L18.24,226.93 L18.56,227.84 L18.87,226.69 L19.18,225.21 L19.49,225.68 L19.80,223.49 L20.06,221.08 L20.31,220.57 L20.57,220.48 L20.83,219.05 L21.09,218.90 L21.34,219.49 L21.60,216.52 L22.10,218.67 L22.60,218.47 L22.86,218.85 L23.12,221.86 L23.38,222.33 L23.64,222.73 L23.90,224.98 L24.13,226.56 L24.36,225.77 L24.59,226.20 L24.82,227.48 L25.05,228.65 L25.28,229.14 L25.51,230.57 L25.74,231.61 L25.97,233.01 L26.20,234.25 L26.47,234.47 L26.75,236.59 L27.02,236.85 L27.30,237.12 L27.57,238.24 L27.85,239.36 L28.12,240.92 L28.40,241.61 L28.84,242.43 L29.29,243.10 L29.73,244.21 L30.17,244.82 L30.61,245.51 L31.06,246.95 L31.50,247.51 L32.27,248.22 L33.05,249.14 L33.83,249.85 L34.60,250.60 L35.30,251.30 L36.00,252.00 L36.00,252.00 Z" fill="#c8c8c8" stroke="none" stroke-width="0.8" stroke-linejoin="round"/>
<path d="M24.60,252.00 L24.72,251.11 L24.83,250.10 L24.95,249.49 L25.07,248.41 L25.18,247.74 L25.30,246.45 L25.42,245.39 L25.53,244.84 L25.65,244.39 L25.77,242.99 L25.88,242.13 L26.00,240.98 L26.19,240.29 L26.38,239.09 L26.56,237.75 L26.75,237.32 L26.94,236.57 L27.12,234.42 L27.31,235.09 L27.50,232.98 L27.73,232.82 L27.96,230.95 L28.19,231.83 L28.41,228.47 L28.64,229.43 L28.87,229.50 L29.10,227.95 L29.35,226.65 L29.60,227.12 L29.85,224.81 L30.10,223.91 L30.35,221.94 L30.60,222.40 L31.10,221.95 L31.60,221.33 L32.10,218.32 L32.60,218.27 L33.10,220.78 L33.30,223.09 L33.50,221.91 L33.70,224.55 L33.89,226.14 L34.08,227.36 L34.26,226.15 L34.45,227.05 L34.64,228.59 L34.83,230.06 L35.01,230.76 L35.20,232.63 L35.43,231.67 L35.66,234.14 L35.89,234.40 L36.12,234.97 L36.35,235.96 L36.58,237.60 L36.81,238.84 L37.04,239.33 L37.27,240.93 L37.50,240.82 L37.88,242.35 L38.25,242.61 L38.62,244.14 L39.00,244.88 L39.38,245.83 L39.75,246.55 L40.12,247.55 L40.50,248.47 L41.27,248.68 L42.04,249.40 L42.81,249.95 L43.58,250.47 L44.35,250.98 L45.23,251.49 L46.10,252.00" fill="none" stroke="#aaa" stroke-width="0.8" stroke-linejoin="round" stroke-linecap="round"/>
<path d="M26.70,252.00 L26.83,251.06 L26.95,250.13 L27.08,249.22 L27.21,248.19 L27.34,247.22 L27.46,246.49 L27.59,245.08 L27.72,244.17 L27.85,244.07 L27.97,242.24 L28.10,241.16 L28.29,240.35 L28.47,240.40 L28.66,238.31 L28.85,237.69 L29.04,237.95 L29.22,237.08 L29.41,234.10 L29.60,233.80 L29.87,233.79 L30.13,233.21 L30.40,232.16 L30.67,230.95 L30.93,228.35 L31.20,228.67 L31.45,228.45 L31.70,225.09 L31.95,224.57 L32.20,225.92 L32.45,222.40 L32.70,222.58 L33.20,221.10 L33.70,220.74 L34.20,219.01 L35.20,220.97 L35.40,221.87 L35.60,225.31 L35.80,224.57 L35.99,226.07 L36.18,226.31 L36.36,228.23 L36.55,227.81 L36.74,229.74 L36.93,231.49 L37.11,232.47 L37.30,233.61 L37.53,233.61 L37.76,235.52 L37.99,235.47 L38.22,237.04 L38.45,237.22 L38.68,238.11 L38.91,238.94 L39.14,239.33 L39.37,241.54 L39.60,241.25 L39.98,242.58 L40.35,243.30 L40.73,244.04 L41.10,244.73 L41.48,245.98 L41.85,246.76 L42.23,247.27 L42.60,248.58 L43.37,248.85 L44.14,249.39 L44.91,250.09 L45.68,250.47 L46.45,251.02 L47.33,251.51 L48.20,252.00" fill="none" stroke="#666" stroke-width="0.8" stroke-linejoin="round" stroke-linecap="round"/>
<path d="M22.60,252.00 L22.66,251.05 L22.73,250.07 L22.79,249.05 L22.85,248.22 L22.92,247.08 L22.98,246.27 L23.05,245.32 L23.11,244.16 L23.17,243.67 L23.24,242.32 L23.30,241.41 L23.53,240.59 L23.77,239.13 L24.00,238.52 L24.09,237.48 L24.18,236.48 L24.27,235.27 L24.36,234.95 L24.45,233.75 L24.55,232.83 L24.64,231.71 L24.73,230.38 L24.82,230.19 L24.91,228.45 L25.00,228.15 L25.09,227.08 L25.17,226.56 L25.26,225.25 L25.34,223.48 L25.43,223.14 L25.51,221.95 L25.60,221.94 L25.65,221.06 L25.69,220.20 L25.74,218.67 L25.79,217.64 L25.83,216.38 L25.88,217.21 L25.93,214.67 L25.97,213.33 L26.02,213.26 L26.07,213.64 L26.11,212.09 L26.16,211.99 L26.21,210.59 L26.25,207.61 L26.30,207.58 L26.41,206.51 L26.52,205.17 L26.64,203.86 L26.75,203.85 L26.86,202.90 L26.97,201.93 L27.09,200.77 L27.20,200.17 L27.50,198.87 L27.80,199.52 L28.60,198.72 L29.00,200.29 L29.40,200.12 L29.51,203.22 L29.62,203.83 L29.73,205.18 L29.84,203.74 L29.95,204.23 L30.05,205.93 L30.16,207.69 L30.27,207.27 L30.38,208.29 L30.49,209.83 L30.60,211.56 L30.71,212.34 L30.82,212.92 L30.93,214.09 L31.04,214.71 L31.15,215.11 L31.26,215.34 L31.37,218.29 L31.48,218.03 L31.59,220.09 L31.70,220.80 L32.47,220.16 L33.23,221.45 L34.00,221.58 L34.77,223.27 L35.53,224.83 L36.30,224.90 L36.92,225.29 L37.55,225.45 L38.17,226.16 L38.80,227.74 L39.02,228.85 L39.23,230.32 L39.45,230.55 L39.67,232.15 L39.88,233.23 L40.10,234.38 L40.29,235.33 L40.48,235.53 L40.66,237.07 L40.85,237.21 L41.04,238.98 L41.23,239.27 L41.41,240.82 L41.60,241.83 L41.93,242.23 L42.26,243.39 L42.59,243.99 L42.91,245.13 L43.24,246.04 L43.57,246.63 L43.90,247.54 L44.66,248.19 L45.42,248.91 L46.18,249.70 L46.94,250.31 L47.70,251.00 L48.55,251.50 L49.40,252.00" fill="none" stroke="#111" stroke-width="0.75" stroke-linejoin="round" stroke-linecap="round"/>
<path d="M23.80,252.00 L23.86,251.06 L23.93,250.08 L23.99,249.17 L24.05,248.11 L24.12,247.35 L24.18,246.16 L24.25,245.29 L24.31,244.68 L24.37,243.77 L24.44,242.46 L24.50,241.39 L24.73,240.90 L24.97,239.71 L25.20,238.33 L25.29,237.92 L25.38,236.30 L25.47,235.74 L25.56,235.29 L25.65,234.01 L25.75,232.83 L25.84,232.06 L25.93,230.80 L26.02,230.62 L26.11,228.73 L26.20,228.45 L26.29,227.10 L26.37,226.21 L26.46,225.67 L26.54,224.83 L26.63,223.18 L26.71,221.95 L26.80,221.34 L26.85,220.86 L26.89,220.53 L26.94,220.14 L26.99,217.23 L27.03,216.92 L27.08,215.71 L27.13,215.98 L27.17,214.41 L27.22,212.56 L27.27,212.01 L27.31,211.69 L27.36,211.57 L27.41,210.35 L27.45,208.15 L27.50,208.70 L27.61,206.88 L27.73,206.20 L27.84,204.38 L27.95,203.72 L28.06,204.45 L28.18,204.46 L28.29,202.71 L28.40,201.28 L28.70,199.73 L29.00,197.93 L29.80,198.49 L30.20,202.22 L30.60,200.40 L30.72,201.47 L30.84,202.29 L30.96,204.22 L31.08,206.13 L31.20,205.35 L31.32,206.49 L31.44,207.84 L31.56,208.19 L31.68,210.75 L31.80,212.43 L31.91,212.07 L32.02,212.35 L32.13,214.76 L32.24,214.30 L32.35,214.78 L32.46,217.34 L32.57,217.37 L32.68,218.13 L32.79,219.49 L32.90,220.93 L33.67,221.61 L34.43,221.41 L35.20,222.13 L35.97,223.53 L36.73,224.97 L37.50,224.43 L38.12,225.24 L38.75,226.91 L39.38,227.07 L40.00,227.31 L40.22,228.36 L40.43,229.92 L40.65,231.00 L40.87,231.85 L41.08,233.37 L41.30,234.35 L41.49,235.29 L41.68,235.67 L41.86,236.98 L42.05,237.73 L42.24,238.83 L42.43,239.69 L42.61,240.92 L42.80,241.92 L43.13,242.15 L43.46,243.40 L43.79,244.40 L44.11,245.00 L44.44,245.80 L44.77,246.90 L45.10,247.62 L45.86,248.35 L46.62,248.99 L47.38,249.74 L48.14,250.39 L48.90,251.01 L49.75,251.50 L50.60,252.00" fill="none" stroke="#000" stroke-width="0.8" stroke-linejoin="round" stroke-linecap="round"/>
<rect x="7.55" y="192.90" width="61.05" height="60.20" fill="none" stroke="#000" stroke-width="1.6"/>
<line x1="2.1500000000000004" y1="196.4" x2="6.75" y2="196.4" stroke="#222" stroke-width="1.6"/>
<line x1="2.1500000000000004" y1="210.9" x2="6.75" y2="210.9" stroke="#222" stroke-width="1.6"/>
<line x1="2.1500000000000004" y1="224.7" x2="6.75" y2="224.7" stroke="#222" stroke-width="1.6"/>
<line x1="2.1500000000000004" y1="237.7" x2="6.75" y2="237.7" stroke="#222" stroke-width="1.6"/>
<line x1="2.1500000000000004" y1="252.2" x2="6.75" y2="252.2" stroke="#222" stroke-width="1.6"/>
<line x1="8.3" y1="253.9" x2="8.3" y2="255.9" stroke="#222" stroke-width="1.0"/>
<text x="8.3" y="259.3" font-size="3.6" font-weight="bold" text-anchor="middle" style="fill:#000">10</text>
<line x1="22.9" y1="253.9" x2="22.9" y2="255.9" stroke="#222" stroke-width="1.0"/>
<text x="22.9" y="259.3" font-size="3.6" font-weight="bold" text-anchor="middle" style="fill:#000">10</text>
<line x1="37.9" y1="253.9" x2="37.9" y2="255.9" stroke="#222" stroke-width="1.0"/>
<text x="37.9" y="259.3" font-size="3.6" font-weight="bold" text-anchor="middle" style="fill:#000">10</text>
<line x1="52.5" y1="253.9" x2="52.5" y2="255.9" stroke="#222" stroke-width="1.0"/>
<text x="52.5" y="259.3" font-size="3.6" font-weight="bold" text-anchor="middle" style="fill:#000">10</text>
<line x1="67.6" y1="253.9" x2="67.6" y2="255.9" stroke="#222" stroke-width="1.0"/>
<text x="67.6" y="259.3" font-size="3.6" font-weight="bold" text-anchor="middle" style="fill:#000">10</text>
<path d="M76.20,251.80 L76.20,251.80 L76.27,250.90 L76.33,249.88 L76.40,248.97 L76.96,248.19 L77.52,247.22 L78.08,246.51 L78.64,245.18 L79.20,244.57 L79.66,243.12 L80.12,242.38 L80.58,241.38 L81.04,240.23 L81.50,240.38 L81.82,239.89 L82.14,238.76 L82.46,237.95 L82.79,237.30 L83.11,236.53 L83.43,234.56 L83.75,232.92 L84.01,232.89 L84.27,230.58 L84.53,229.61 L84.78,231.00 L85.04,228.42 L85.30,228.03 L85.55,228.07 L85.80,224.37 L86.05,225.91 L86.30,223.93 L86.55,222.75 L86.80,220.63 L87.40,220.62 L88.00,220.65 L88.53,221.14 L89.07,223.02 L89.60,220.59 L89.85,221.50 L90.10,225.31 L90.35,226.87 L90.60,227.02 L90.82,227.57 L91.04,226.72 L91.25,227.65 L91.47,228.78 L91.69,231.92 L91.91,230.78 L92.13,231.90 L92.35,232.97 L92.56,233.09 L92.78,236.09 L93.00,236.74 L93.27,236.41 L93.55,237.01 L93.82,238.42 L94.09,239.96 L94.36,240.41 L94.64,241.10 L94.91,242.86 L95.18,243.47 L95.45,244.43 L95.73,245.42 L96.00,246.01 L96.33,247.18 L96.67,248.07 L97.00,249.04 L97.33,249.82 L97.67,250.83 L98.00,251.80 L98.00,251.80 Z" fill="#000" stroke="none" stroke-width="0.8" stroke-linejoin="round"/>
<path d="M77.00,251.80 L77.00,251.80 L77.42,250.92 L77.83,250.15 L78.25,249.07 L78.67,248.41 L79.08,247.65 L79.50,246.20 L79.93,245.87 L80.36,244.38 L80.79,243.55 L81.21,242.62 L81.64,242.67 L82.07,241.43 L82.50,241.10 L82.81,238.94 L83.12,238.16 L83.44,237.64 L83.75,237.09 L84.06,236.46 L84.38,234.54 L84.69,234.43 L85.00,233.19 L85.25,233.47 L85.50,232.37 L85.75,231.92 L86.00,229.13 L86.25,228.65 L86.50,229.00 L86.75,225.72 L87.00,226.80 L87.40,225.44 L87.80,225.50 L88.20,224.23 L88.60,221.19 L89.40,224.12 L90.20,225.70 L90.46,225.46 L90.71,226.97 L90.97,225.98 L91.23,229.42 L91.49,227.71 L91.74,231.34 L92.00,229.92 L92.21,231.49 L92.43,233.58 L92.64,233.84 L92.86,235.20 L93.07,236.16 L93.29,237.17 L93.50,237.76 L93.71,237.56 L93.93,238.54 L94.14,239.64 L94.36,241.78 L94.57,242.41 L94.79,242.61 L95.00,244.46 L95.25,244.77 L95.50,246.11 L95.75,246.62 L96.00,248.15 L96.25,248.76 L96.50,249.89 L96.75,250.83 L97.00,251.80 L97.00,251.80 Z" fill="#555" stroke="none" stroke-width="0.8" stroke-linejoin="round"/>
<path d="M77.60,251.80 L77.60,251.80 L78.16,251.09 L78.71,250.37 L79.27,249.76 L79.83,249.13 L80.39,248.07 L80.94,247.50 L81.50,247.01 L82.00,245.97 L82.50,244.67 L83.00,244.43 L83.50,243.19 L84.00,242.83 L84.50,241.93 L84.83,240.23 L85.16,239.42 L85.49,239.40 L85.81,238.78 L86.14,237.94 L86.47,236.05 L86.80,235.41 L87.13,235.04 L87.46,234.35 L87.79,232.48 L88.11,231.34 L88.44,230.15 L88.77,229.89 L89.10,230.14 L89.60,229.58 L90.10,226.46 L90.60,226.51 L90.92,226.40 L91.24,229.43 L91.56,228.02 L91.88,230.36 L92.20,229.85 L92.45,230.86 L92.70,232.85 L92.95,235.00 L93.20,233.95 L93.45,235.93 L93.70,236.17 L93.95,238.35 L94.20,239.47 L94.45,239.43 L94.70,241.16 L94.95,242.42 L95.20,243.15 L95.58,243.80 L95.97,245.26 L96.35,245.68 L96.73,246.64 L97.12,247.49 L97.50,248.57 L98.27,248.95 L99.03,249.58 L99.80,250.30 L100.40,251.05 L101.00,251.80 L101.00,251.80 Z" fill="#c8c8c8" stroke="none" stroke-width="0.8" stroke-linejoin="round"/>
<path d="M100.00,251.80 L100.33,250.75 L100.65,249.63 L100.97,248.70 L101.30,247.52 L101.59,246.70 L101.88,245.57 L102.16,245.02 L102.45,243.54 L102.74,242.49 L103.02,241.90 L103.31,240.94 L103.60,239.97 L103.93,238.99 L104.26,238.64 L104.59,236.48 L104.91,236.50 L105.24,235.61 L105.57,234.79 L105.90,233.61 L106.65,231.65 L107.40,232.05 L108.60,231.55 L109.30,231.04 L110.00,232.53 L110.35,233.80 L110.70,233.84 L111.05,234.89 L111.40,235.97 L111.63,236.66 L111.86,238.34 L112.09,238.36 L112.31,239.48 L112.54,241.09 L112.77,241.91 L113.00,242.51 L113.33,243.47 L113.67,244.58 L114.00,245.61 L114.33,246.41 L114.67,247.48 L115.00,248.27 L115.62,248.89 L116.25,249.72 L116.88,250.32 L117.50,251.00 L119.00,251.80" fill="none" stroke="#999" stroke-width="0.8" stroke-linejoin="round" stroke-linecap="round"/>
<path d="M102.30,251.80 L102.62,250.75 L102.95,249.69 L103.27,248.58 L103.60,247.72 L103.89,246.50 L104.17,245.47 L104.46,244.82 L104.75,243.86 L105.04,242.58 L105.32,241.88 L105.61,241.05 L105.90,239.54 L106.23,238.72 L106.56,238.25 L106.89,237.42 L107.21,236.34 L107.54,235.24 L107.87,233.42 L108.20,232.70 L108.95,231.49 L109.70,230.63 L110.90,230.16 L111.60,232.20 L112.30,231.97 L112.65,232.24 L113.00,233.32 L113.35,235.37 L113.70,236.11 L113.93,236.75 L114.16,238.02 L114.39,238.75 L114.61,240.17 L114.84,240.71 L115.07,241.57 L115.30,242.89 L115.63,243.73 L115.97,244.13 L116.30,245.24 L116.63,246.16 L116.97,247.28 L117.30,248.20 L117.92,248.88 L118.55,249.58 L119.17,250.32 L119.80,251.00 L121.30,251.80" fill="none" stroke="#555" stroke-width="0.8" stroke-linejoin="round" stroke-linecap="round"/>
<path d="M104.60,251.80 L104.92,250.78 L105.25,249.85 L105.57,248.71 L105.90,247.81 L106.19,246.73 L106.47,246.00 L106.76,244.94 L107.05,243.75 L107.34,243.03 L107.62,242.41 L107.91,241.26 L108.20,240.42 L108.53,238.92 L108.86,238.72 L109.19,237.77 L109.51,236.39 L109.84,236.18 L110.17,234.56 L110.50,233.03 L111.25,232.76 L112.00,232.23 L113.20,231.49 L113.90,231.95 L114.60,233.19 L114.95,234.17 L115.30,235.09 L115.65,235.80 L116.00,236.60 L116.23,237.64 L116.46,238.58 L116.69,239.63 L116.91,240.03 L117.14,240.65 L117.37,241.78 L117.60,242.72 L117.93,243.61 L118.27,244.84 L118.60,245.48 L118.93,246.55 L119.27,247.45 L119.60,248.37 L120.22,249.07 L120.85,249.75 L121.47,250.37 L122.10,251.02 L123.60,251.80" fill="none" stroke="#111" stroke-width="0.9" stroke-linejoin="round" stroke-linecap="round"/>
<path d="M98.65,251.80 L98.85,250.90 L99.05,250.02 L99.25,249.13 L99.40,248.19 L99.55,247.30 L99.70,246.35 L99.85,245.60 L100.00,244.60 L100.15,243.51 L100.30,242.83 L100.45,241.80 L100.60,240.91 L100.75,240.11 L100.82,238.81 L100.90,238.28 L100.97,237.07 L101.04,236.55 L101.12,235.71 L101.19,234.20 L101.26,233.61 L101.34,233.01 L101.41,231.82 L101.48,230.86 L101.56,229.65 L101.63,229.35 L101.70,228.33 L101.78,226.62 L101.85,225.93 L101.91,225.69 L101.97,224.57 L102.03,223.64 L102.09,222.31 L102.15,221.47 L102.21,220.23 L102.27,219.34 L102.33,218.85 L102.39,217.61 L102.45,216.68 L102.51,215.73 L102.57,215.26 L102.63,213.83 L102.69,213.04 L102.75,211.76 L102.81,212.22 L102.87,209.97 L102.93,210.65 L102.99,208.31 L103.05,207.73 L103.15,206.99 L103.25,205.14 L103.35,205.01 L103.45,204.41 L103.55,202.72 L103.65,201.60 L103.75,201.26 L103.92,200.77 L104.08,199.61 L104.25,198.60 L104.45,198.99 L104.65,200.97 L104.85,201.74 L104.95,202.29 L105.05,203.57 L105.15,204.62 L105.25,204.57 L105.35,205.37 L105.45,206.99 L105.55,208.01 L105.61,209.45 L105.67,210.16 L105.74,211.39 L105.80,211.57 L105.86,212.51 L105.92,214.29 L105.99,213.86 L106.05,215.78 L106.11,215.92 L106.17,216.89 L106.24,217.67 L106.30,219.72 L106.36,220.35 L106.42,220.65 L106.49,222.79 L106.55,223.67 L106.63,223.97 L106.72,225.00 L106.80,225.46 L106.89,226.58 L106.97,227.79 L107.06,228.27 L107.14,229.71 L107.23,230.65 L107.31,231.45 L107.40,232.66 L107.48,233.62 L107.57,234.38 L107.65,235.51 L107.83,236.00 L108.01,237.11 L108.19,238.11 L108.37,239.27 L108.55,240.02 L108.73,240.91 L108.91,241.74 L109.09,242.65 L109.27,243.45 L109.45,244.35 L109.92,245.40 L110.38,246.31 L110.85,247.17 L111.32,248.02 L111.78,249.02 L112.25,249.90 L112.98,250.53 L113.72,251.17 L114.45,251.80" fill="none" stroke="#111" stroke-width="0.75" stroke-linejoin="round" stroke-linecap="round"/>
<path d="M99.75,251.80 L99.95,250.91 L100.15,249.99 L100.35,249.17 L100.50,248.25 L100.65,247.23 L100.80,246.35 L100.95,245.52 L101.10,244.75 L101.25,243.58 L101.40,242.75 L101.55,241.78 L101.70,240.79 L101.85,239.92 L101.92,239.25 L102.00,238.50 L102.07,237.52 L102.14,236.47 L102.22,235.56 L102.29,234.89 L102.36,233.99 L102.44,232.72 L102.51,231.83 L102.58,231.14 L102.66,229.63 L102.73,229.05 L102.80,228.75 L102.88,227.46 L102.95,226.14 L103.01,225.77 L103.07,224.42 L103.13,224.35 L103.19,223.08 L103.25,221.48 L103.31,220.90 L103.37,219.88 L103.43,219.64 L103.49,218.31 L103.55,217.32 L103.61,216.86 L103.67,215.35 L103.73,214.63 L103.79,212.94 L103.85,212.74 L103.91,212.12 L103.97,211.74 L104.03,210.78 L104.09,208.76 L104.15,209.09 L104.25,208.21 L104.35,207.18 L104.45,205.58 L104.55,204.05 L104.65,203.57 L104.75,202.25 L104.85,202.96 L105.02,202.10 L105.18,199.41 L105.35,199.44 L105.55,199.53 L105.75,201.34 L105.95,202.73 L106.05,203.41 L106.15,204.66 L106.25,203.88 L106.35,205.46 L106.45,206.83 L106.55,207.53 L106.65,208.56 L106.71,210.11 L106.77,209.51 L106.84,211.01 L106.90,211.30 L106.96,213.14 L107.02,213.78 L107.09,215.33 L107.15,216.58 L107.21,216.14 L107.27,217.21 L107.34,218.95 L107.40,219.06 L107.46,220.13 L107.52,221.77 L107.59,222.31 L107.65,222.81 L107.73,224.33 L107.82,224.74 L107.90,226.49 L107.99,227.25 L108.07,227.84 L108.16,229.29 L108.24,230.13 L108.33,230.54 L108.41,231.83 L108.50,232.51 L108.58,233.90 L108.67,234.87 L108.75,235.67 L108.93,236.68 L109.11,237.07 L109.29,238.39 L109.47,239.13 L109.65,240.27 L109.83,240.95 L110.01,241.92 L110.19,242.81 L110.37,243.83 L110.55,244.69 L111.02,245.37 L111.48,246.39 L111.95,247.30 L112.42,248.19 L112.88,249.05 L113.35,249.94 L114.08,250.55 L114.82,251.17 L115.55,251.80" fill="none" stroke="#000" stroke-width="0.8" stroke-linejoin="round" stroke-linecap="round"/>
<rect x="75.40" y="192.90" width="61.40" height="60.10" fill="none" stroke="#000" stroke-width="1.6"/>
<line x1="70.0" y1="202.5" x2="74.6" y2="202.5" stroke="#222" stroke-width="1.6"/>
<line x1="70.0" y1="219.6" x2="74.6" y2="219.6" stroke="#222" stroke-width="1.6"/>
<line x1="70.0" y1="236.6" x2="74.6" y2="236.6" stroke="#222" stroke-width="1.6"/>
<line x1="77" y1="253.8" x2="77" y2="255.8" stroke="#222" stroke-width="1.0"/>
<text x="77" y="259.2" font-size="3.6" font-weight="bold" text-anchor="middle" style="fill:#000">10</text>
<line x1="91.25" y1="253.8" x2="91.25" y2="255.8" stroke="#222" stroke-width="1.0"/>
<text x="91.25" y="259.2" font-size="3.6" font-weight="bold" text-anchor="middle" style="fill:#000">10</text>
<line x1="106.25" y1="253.8" x2="106.25" y2="255.8" stroke="#222" stroke-width="1.0"/>
<text x="106.25" y="259.2" font-size="3.6" font-weight="bold" text-anchor="middle" style="fill:#000">10</text>
<line x1="121.5" y1="253.8" x2="121.5" y2="255.8" stroke="#222" stroke-width="1.0"/>
<text x="121.5" y="259.2" font-size="3.6" font-weight="bold" text-anchor="middle" style="fill:#000">10</text>
<line x1="136.3" y1="253.8" x2="136.3" y2="255.8" stroke="#222" stroke-width="1.0"/>
<text x="136.3" y="259.2" font-size="3.6" font-weight="bold" text-anchor="middle" style="fill:#000">10</text>
<text x="37.0" y="267.9" font-size="8.7" text-anchor="middle" >CD18-PE</text>
<text x="105.6" y="267.9" font-size="8.6" text-anchor="middle" >CD49d-PE</text>
<rect x="140.30" y="192.60" width="5.10" height="4.80" fill="#fff" stroke="#000" stroke-width="1.8"/>
<text x="149.2" y="197.9" font-size="8.3" text-anchor="start" >Day 0</text>
<rect x="140.30" y="201.50" width="5.10" height="4.80" fill="#fff" stroke="#333" stroke-width="1.8"/>
<text x="149.2" y="206.8" font-size="8.3" text-anchor="start" >Control</text>
<rect x="140.30" y="210.60" width="5.10" height="4.80" fill="#fff" stroke="#999" stroke-width="1.8"/>
<text x="149.2" y="215.9" font-size="8.3" text-anchor="start" >PKBinh 24h</text>
<rect x="140.30" y="219.60" width="5.10" height="4.80" fill="#fff" stroke="#ddd" stroke-width="1.8"/>
<text x="149.2" y="224.9" font-size="8.3" text-anchor="start" >PKBinh 48h</text>
<rect x="237.00" y="246.10" width="15.90" height="29.30" fill="#000" stroke="#000" stroke-width="1.4"/>
<line x1="269.29999999999995" y1="188.8" x2="269.29999999999995" y2="178.6" stroke="#000" stroke-width="1.4"/>
<line x1="266.59999999999997" y1="178.6" x2="271.99999999999994" y2="178.6" stroke="#000" stroke-width="1.4"/>
<rect x="261.60" y="189.20" width="15.40" height="86.20" fill="#000" stroke="#000" stroke-width="1.4"/>
<line x1="291.9" y1="223.1" x2="291.9" y2="218.6" stroke="#000" stroke-width="1.4"/>
<line x1="289.2" y1="218.6" x2="294.59999999999997" y2="218.6" stroke="#000" stroke-width="1.4"/>
<rect x="283.90" y="223.50" width="16.00" height="51.90" fill="#999" stroke="#000" stroke-width="1.4"/>
<line x1="314.65" y1="236" x2="314.65" y2="228.4" stroke="#000" stroke-width="1.4"/>
<line x1="311.95" y1="228.4" x2="317.34999999999997" y2="228.4" stroke="#000" stroke-width="1.4"/>
<rect x="306.80" y="236.40" width="15.70" height="39.00" fill="#d8d8d8" stroke="#000" stroke-width="1.4"/>
<rect x="231.80" y="173.00" width="98.30" height="102.50" fill="none" stroke="#000" stroke-width="1.8"/>
<line x1="226.4" y1="186.2" x2="231.4" y2="186.2" stroke="#000" stroke-width="1.5"/>
<text x="225.79999999999998" y="186.6" font-size="8" text-anchor="end" >3</text>
<line x1="226.4" y1="216.2" x2="231.4" y2="216.2" stroke="#000" stroke-width="1.5"/>
<text x="225.79999999999998" y="216.2" font-size="8" text-anchor="end" >2</text>
<line x1="226.4" y1="246.0" x2="231.4" y2="246.0" stroke="#000" stroke-width="1.5"/>
<text x="225.79999999999998" y="245.5" font-size="8" text-anchor="end" >1</text>
<text transform="translate(220.3 270) rotate(-90)" font-size="8.3" textLength="83.1" lengthAdjust="spacingAndGlyphs">CD18 expression (FI)</text>
<line x1="242.2" y1="178.6" x2="299.8" y2="178.6" stroke="#000" stroke-width="1.8"/>
<text class="st" transform="translate(269.8 176.80) scale(0.86 1.18)" x="0" y="5.40" font-size="11.5" text-anchor="middle">*</text>
<line x1="242.2" y1="184" x2="267.3" y2="184" stroke="#000" stroke-width="1.8"/>
<text class="st" transform="translate(254.9 182.00) scale(0.86 1.18)" x="0" y="5.40" font-size="11.5" text-anchor="middle">*</text>
<line x1="261.4" y1="280.8" x2="322.6" y2="280.8" stroke="#000" stroke-width="1.5"/>
<text x="245.3" y="293.3" font-size="8.5" text-anchor="middle" >Day 0</text>
<text x="292.3" y="293.3" font-size="8.5" text-anchor="middle" >48 hours</text>
<rect x="375.70" y="248.90" width="15.60" height="24.80" fill="#000" stroke="#000" stroke-width="1.4"/>
<line x1="406.15" y1="196" x2="406.15" y2="188.8" stroke="#000" stroke-width="1.4"/>
<line x1="403.45" y1="188.8" x2="408.84999999999997" y2="188.8" stroke="#000" stroke-width="1.4"/>
<rect x="398.20" y="196.40" width="15.90" height="77.30" fill="#000" stroke="#000" stroke-width="1.4"/>
<line x1="428.4" y1="222" x2="428.4" y2="216.7" stroke="#000" stroke-width="1.4"/>
<line x1="425.7" y1="216.7" x2="431.09999999999997" y2="216.7" stroke="#000" stroke-width="1.4"/>
<rect x="420.70" y="222.40" width="15.40" height="51.30" fill="#999" stroke="#000" stroke-width="1.4"/>
<line x1="450.8" y1="237" x2="450.8" y2="233.5" stroke="#000" stroke-width="1.4"/>
<line x1="448.1" y1="233.5" x2="453.5" y2="233.5" stroke="#000" stroke-width="1.4"/>
<rect x="443.00" y="237.40" width="15.60" height="36.30" fill="#d8d8d8" stroke="#000" stroke-width="1.4"/>
<rect x="367.90" y="171.40" width="97.90" height="102.40" fill="none" stroke="#000" stroke-width="1.8"/>
<line x1="362.5" y1="198" x2="367.5" y2="198" stroke="#000" stroke-width="1.5"/>
<text x="361.9" y="199.6" font-size="8" text-anchor="end" >3</text>
<line x1="362.5" y1="223.5" x2="367.5" y2="223.5" stroke="#000" stroke-width="1.5"/>
<text x="361.9" y="225.1" font-size="8" text-anchor="end" >2</text>
<line x1="362.5" y1="248.8" x2="367.5" y2="248.8" stroke="#000" stroke-width="1.5"/>
<text x="361.9" y="250.4" font-size="8" text-anchor="end" >1</text>
<text transform="translate(352.2 270) rotate(-90)" font-size="8.3" textLength="86.8" lengthAdjust="spacingAndGlyphs">CD49d expression (FI)</text>
<line x1="383.7" y1="178" x2="451.8" y2="178" stroke="#000" stroke-width="1.8"/>
<text class="st" transform="translate(417.3 176.20) scale(0.86 1.18)" x="0" y="5.40" font-size="11.5" text-anchor="middle">*</text>
<line x1="383.7" y1="184.4" x2="428.8" y2="184.4" stroke="#000" stroke-width="1.8"/>
<text class="st" transform="translate(406 181.80) scale(0.86 1.18)" x="0" y="5.40" font-size="11.5" text-anchor="middle">*</text>
<line x1="383.7" y1="192.1" x2="401.5" y2="192.1" stroke="#000" stroke-width="1.8"/>
<text class="st" transform="translate(394.7 190.30) scale(0.86 1.18)" x="0" y="5.40" font-size="11.5" text-anchor="middle">*</text>
<line x1="399.8" y1="281.4" x2="459.8" y2="281.4" stroke="#000" stroke-width="1.5"/>
<text x="382.6" y="294" font-size="8.5" text-anchor="middle" >Day 0</text>
<text x="428.1" y="294" font-size="8.5" text-anchor="middle" >48 hours</text>
<rect x="468.50" y="171.80" width="5.60" height="5.60" fill="#000" stroke="#000" stroke-width="1.1"/>
<text x="477.6" y="177.7" font-size="8.3" text-anchor="start" >Control</text>
<rect x="468.50" y="182.30" width="5.60" height="5.60" fill="#999" stroke="#333" stroke-width="1.1"/>
<text x="477.6" y="188.2" font-size="8.3" text-anchor="start" >PKBinh 24h</text>
<rect x="468.50" y="192.80" width="5.60" height="5.60" fill="#ddd" stroke="#000" stroke-width="1.1"/>
<text x="477.6" y="198.7" font-size="8.3" text-anchor="start" >PKBinh 48h</text>
<path d="M24.60,416.30 L24.60,416.30 L24.60,415.39 L24.60,414.54 L24.60,413.55 L24.60,412.71 L24.60,411.87 L24.60,410.79 L24.60,410.13 L24.60,409.16 L24.60,407.96 L24.60,407.46 L24.60,406.37 L24.60,405.19 L24.60,404.28 L24.60,403.90 L24.60,402.84 L24.60,401.59 L24.60,401.02 L24.60,399.50 L24.60,399.42 L24.60,397.64 L24.60,397.27 L24.60,396.72 L24.60,395.52 L24.60,395.08 L24.60,393.34 L24.60,393.11 L24.60,391.19 L24.60,390.78 L24.60,390.25 L24.60,389.57 L24.60,388.01 L24.60,387.85 L24.60,385.66 L24.60,386.26 L24.60,384.56 L24.60,383.59 L24.60,383.28 L24.60,381.25 L24.60,381.23 L24.60,379.68 L24.60,378.98 L24.60,378.72 L24.60,377.62 L24.60,377.52 L24.60,376.39 L24.60,373.65 L24.60,374.22 L24.60,372.34 L24.60,373.05 L24.84,370.83 L25.08,370.56 L25.32,369.26 L25.56,369.02 L25.80,368.90 L26.17,367.02 L26.53,366.22 L26.90,365.49 L27.35,362.49 L27.80,363.08 L28.60,363.09 L29.40,361.77 L30.05,363.15 L30.70,363.70 L30.85,364.70 L30.99,368.00 L31.14,368.42 L31.28,370.08 L31.43,368.95 L31.57,369.90 L31.72,371.74 L31.86,372.45 L32.01,372.65 L32.15,373.44 L32.30,375.59 L32.42,374.86 L32.55,377.07 L32.67,377.25 L32.80,379.26 L32.92,380.30 L33.05,379.27 L33.17,380.60 L33.30,381.55 L33.42,383.94 L33.55,384.80 L33.67,385.41 L33.80,386.21 L33.92,386.88 L34.05,387.61 L34.17,389.13 L34.30,389.51 L34.42,389.82 L34.55,391.49 L34.67,391.29 L34.80,392.62 L34.92,393.30 L35.05,394.87 L35.17,395.50 L35.30,396.06 L35.47,397.42 L35.64,398.76 L35.82,398.72 L35.99,399.74 L36.16,401.18 L36.33,402.33 L36.51,402.52 L36.68,403.68 L36.85,405.05 L37.04,405.76 L37.23,406.72 L37.42,407.18 L37.62,408.39 L37.81,408.92 L38.00,409.90 L38.21,411.05 L38.43,411.74 L38.64,412.73 L38.86,413.56 L39.07,414.46 L39.29,415.40 L39.50,416.30 L39.50,416.30 Z" fill="#8c8c8c" stroke="none" stroke-width="0.8" stroke-linejoin="round"/>
<path d="M8.60,416.30 L8.60,416.30 L8.83,415.23 L9.07,414.19 L9.30,413.17 L9.49,412.11 L9.68,411.34 L9.88,410.29 L10.07,409.46 L10.26,408.55 L10.45,407.60 L10.64,406.79 L10.83,405.99 L11.03,405.34 L11.22,404.06 L11.41,403.34 L11.60,402.39 L11.78,401.13 L11.95,400.83 L12.13,399.35 L12.31,399.07 L12.48,397.51 L12.66,396.45 L12.84,396.09 L13.02,394.84 L13.19,393.40 L13.37,392.85 L13.55,392.02 L13.72,391.47 L13.90,390.81 L14.08,389.46 L14.25,388.45 L14.43,387.84 L14.61,386.74 L14.78,386.10 L14.96,384.22 L15.14,383.34 L15.32,383.16 L15.49,382.22 L15.67,380.79 L15.85,379.98 L16.02,378.08 L16.20,378.30 L16.39,377.52 L16.58,375.40 L16.77,376.10 L16.97,374.29 L17.16,373.92 L17.35,371.92 L17.54,371.64 L17.73,370.24 L17.93,370.78 L18.12,368.67 L18.31,367.94 L18.50,367.40 L18.80,365.63 L19.10,364.47 L19.40,365.44 L19.70,364.00 L20.00,362.84 L20.30,362.32 L20.60,361.80 L20.84,362.11 L21.09,363.30 L21.33,362.85 L21.57,364.53 L21.81,366.40 L22.06,366.79 L22.30,367.38 L22.59,368.60 L22.88,370.03 L23.16,371.19 L23.45,372.27 L23.74,370.90 L24.03,372.43 L24.31,374.88 L24.60,374.43 L24.89,374.84 L25.18,376.69 L25.46,378.58 L25.75,378.77 L26.04,379.84 L26.32,381.26 L26.61,381.56 L26.90,383.47 L27.16,382.76 L27.42,384.13 L27.67,385.05 L27.93,385.46 L28.19,386.80 L28.45,388.30 L28.71,389.18 L28.97,390.21 L29.23,391.23 L29.48,391.12 L29.74,391.93 L30.00,393.50 L30.30,394.53 L30.60,394.93 L30.90,395.62 L31.20,396.47 L31.50,398.15 L31.80,398.48 L32.10,399.36 L32.40,400.37 L32.70,401.62 L33.00,402.63 L33.34,403.02 L33.69,404.20 L34.03,405.01 L34.38,405.75 L34.72,406.69 L35.07,407.31 L35.41,408.42 L35.76,409.33 L36.10,409.98 L36.56,410.88 L37.02,411.76 L37.48,412.72 L37.94,413.62 L38.40,414.56 L39.20,415.45 L40.00,416.30 L40.00,416.30 Z" fill="#cfcfcf" stroke="none" stroke-width="0.8" stroke-linejoin="round"/>
<path d="M33.20,384.02 L33.97,384.84 L34.73,387.05 L35.50,387.29 L36.25,386.74 L37.00,389.19 L37.75,387.45 L38.50,389.93 L39.38,388.24 L40.25,385.55 L41.12,388.28 L42.00,387.84 L42.65,385.57 L43.30,385.93 L43.95,383.01 L44.60,385.45 L45.25,381.08 L45.81,380.21 L46.38,379.71 L46.94,380.63 L47.50,380.55 L47.64,379.63 L47.77,381.23 L47.91,382.55 L48.04,383.81 L48.18,384.26 L48.31,384.21 L48.45,384.49 L48.58,385.12 L48.72,388.87 L48.85,389.25 L48.99,389.60 L49.12,390.08 L49.26,391.70 L49.39,393.07 L49.53,394.28 L49.66,394.42 L49.80,394.91 L49.98,394.46 L50.17,395.62 L50.35,396.71 L50.54,397.44 L50.72,398.47 L50.91,400.18 L51.09,400.76 L51.28,403.12 L51.46,402.94 L51.65,404.01 L51.83,405.42 L52.02,405.97 L52.20,406.44 L52.63,407.89 L53.06,408.60 L53.49,409.79 L53.91,410.61 L54.34,411.11 L54.77,412.48 L55.20,413.23 L55.90,413.84 L56.60,414.71 L57.30,415.50 L58.00,416.30" fill="none" stroke="#ccc" stroke-width="0.9" stroke-linejoin="round" stroke-linecap="round"/>
<path d="M33.00,384.82 L33.31,383.19 L33.62,385.28 L33.94,385.30 L34.25,386.83 L34.56,387.26 L34.88,388.01 L35.19,389.50 L35.50,391.34 L36.25,391.83 L37.00,390.22 L37.75,392.10 L38.50,394.19 L39.25,391.10 L40.00,392.31 L40.75,392.12 L41.50,389.89 L41.93,390.03 L42.36,388.33 L42.79,387.22 L43.21,387.64 L43.64,385.42 L44.07,386.46 L44.50,383.94 L44.93,382.68 L45.36,384.04 L45.79,381.64 L46.21,382.31 L46.64,379.65 L47.07,376.61 L47.50,377.24 L47.93,377.26 L48.37,377.91 L48.80,381.85 L48.92,378.64 L49.04,380.85 L49.16,384.55 L49.29,382.29 L49.41,385.09 L49.53,386.90 L49.65,384.69 L49.77,387.19 L49.89,387.34 L50.01,390.58 L50.14,389.26 L50.26,392.61 L50.38,392.91 L50.50,393.39 L50.68,395.36 L50.86,394.59 L51.04,396.56 L51.21,397.23 L51.39,397.13 L51.57,398.74 L51.75,398.64 L51.93,400.17 L52.11,400.62 L52.29,402.17 L52.46,402.49 L52.64,403.55 L52.82,405.56 L53.00,405.67 L53.38,407.07 L53.75,407.45 L54.12,408.44 L54.50,409.21 L54.88,410.67 L55.25,411.33 L55.62,411.99 L56.00,412.80 L56.75,413.75 L57.50,414.75 L58.25,415.48 L59.00,416.30" fill="none" stroke="#999" stroke-width="0.9" stroke-linejoin="round" stroke-linecap="round"/>
<path d="M23.80,372.64 L24.10,374.50 L24.40,370.81 L24.70,368.18 L25.00,371.38 L25.37,365.18 L25.73,365.69 L26.10,367.40 L26.55,366.79 L27.00,364.00 L27.80,361.89 L28.60,364.24 L29.25,368.25 L29.90,369.69 L30.06,370.01 L30.22,366.56 L30.38,371.37 L30.54,370.05 L30.70,372.59 L30.86,371.21 L31.02,373.94 L31.18,376.20 L31.34,373.14 L31.50,375.94 L31.64,376.10 L31.77,376.47 L31.91,376.76 L32.05,382.25 L32.18,381.60 L32.32,383.39 L32.45,382.74 L32.59,382.08 L32.73,383.38 L32.86,387.46 L33.00,387.77 L33.14,386.25 L33.27,387.75 L33.41,389.73 L33.55,390.38 L33.68,392.37 L33.82,391.08 L33.95,393.45 L34.09,392.97 L34.23,394.70 L34.36,397.10 L34.50,397.34 L34.67,398.55 L34.84,397.91 L35.02,399.58 L35.19,401.67 L35.36,402.33 L35.53,402.91 L35.71,403.67 L35.88,404.45 L36.05,405.69 L36.66,404.92 L37.27,404.68 L37.88,402.89 L38.49,402.51 L39.10,402.31 L39.43,400.60 L39.76,398.60 L40.09,399.87 L40.41,398.84 L40.74,396.70 L41.07,396.89 L41.40,396.07 L41.69,394.51 L41.98,394.29 L42.26,392.43 L42.55,391.62 L42.84,389.24 L43.12,388.12 L43.41,390.59 L43.70,387.75 L43.93,386.05 L44.16,384.73 L44.39,384.21 L44.62,383.89 L44.85,382.98 L45.08,383.29 L45.31,382.79 L45.54,379.54 L45.77,378.25 L46.00,377.00 L46.17,377.27 L46.33,378.22 L46.50,374.85 L46.67,373.97 L46.83,374.25 L47.00,372.56 L47.17,373.23 L47.33,371.09 L47.50,370.99 L47.75,373.98 L48.00,373.27 L48.25,374.28 L48.50,371.52 L48.75,375.29 L49.00,376.85 L49.16,378.36 L49.32,379.27 L49.48,379.57 L49.64,381.47 L49.80,382.93 L49.96,379.79 L50.12,382.60 L50.28,383.52 L50.44,383.88 L50.60,385.88 L50.74,387.33 L50.87,388.63 L51.01,388.64 L51.15,389.53 L51.28,388.99 L51.42,390.55 L51.55,390.25 L51.69,393.11 L51.83,392.29 L51.96,394.26 L52.10,396.60 L52.27,397.27 L52.43,397.21 L52.60,397.23 L52.77,399.69 L52.93,399.77 L53.10,401.47 L53.27,401.63 L53.43,404.03 L53.60,404.30 L53.93,404.64 L54.26,406.48 L54.59,407.43 L54.91,408.61 L55.24,409.37 L55.57,410.20 L55.90,410.82 L56.52,411.87 L57.14,412.49 L57.76,413.30 L58.38,413.88 L59.00,414.57 L60.00,415.17 L61.00,415.69 L62.00,416.20" fill="none" stroke="#444" stroke-width="1.0" stroke-linejoin="round" stroke-linecap="round"/>
<path d="M24.60,371.32 L24.84,372.23 L25.08,369.19 L25.32,367.34 L25.56,367.95 L25.80,369.31 L26.17,365.04 L26.53,363.61 L26.90,364.93 L27.35,364.80 L27.80,363.49 L28.60,362.43 L29.40,361.45 L30.05,363.46 L30.70,363.09 L30.85,367.18 L30.99,367.55 L31.14,366.63 L31.28,367.97 L31.43,369.89 L31.57,369.68 L31.72,371.94 L31.86,373.92 L32.01,373.43 L32.15,375.69 L32.30,374.44 L32.42,376.38 L32.55,376.70 L32.67,377.24 L32.80,379.28 L32.92,379.48 L33.05,381.79 L33.17,379.83 L33.30,381.84 L33.42,381.49 L33.55,385.09 L33.67,384.39 L33.80,384.99 L33.92,386.94 L34.05,388.42 L34.17,389.12 L34.30,390.02 L34.42,389.44 L34.55,391.86 L34.67,391.17 L34.80,392.89 L34.92,393.55 L35.05,394.35 L35.17,395.31 L35.30,396.02 L35.45,397.02 L35.61,398.35 L35.77,398.60 L35.92,400.21 L36.08,400.46 L36.23,401.30 L36.38,402.20 L36.54,403.64 L36.70,404.02 L36.85,404.73 L37.46,404.39 L38.07,403.73 L38.68,402.59 L39.29,401.20 L39.90,401.40 L40.23,400.73 L40.56,399.19 L40.89,398.04 L41.21,396.96 L41.54,396.78 L41.87,394.78 L42.20,395.31 L42.49,393.33 L42.78,393.72 L43.06,392.93 L43.35,391.77 L43.64,391.01 L43.92,389.02 L44.21,387.93 L44.50,387.92 L44.73,385.02 L44.96,385.65 L45.19,385.36 L45.42,384.39 L45.65,381.84 L45.88,380.35 L46.11,381.79 L46.34,381.33 L46.57,377.99 L46.80,378.87 L46.95,375.44 L47.10,376.20 L47.25,374.81 L47.40,374.97 L47.55,372.37 L47.70,372.75 L47.85,372.39 L48.00,369.18 L48.15,371.50 L48.30,368.03 L48.55,371.75 L48.80,370.39 L49.05,372.33 L49.30,371.54 L49.55,375.56 L49.80,374.67 L49.96,376.14 L50.12,375.28 L50.28,376.15 L50.44,378.16 L50.60,380.39 L50.76,381.20 L50.92,382.07 L51.08,382.46 L51.24,383.96 L51.40,384.94 L51.52,384.28 L51.65,385.50 L51.77,387.30 L51.90,386.42 L52.02,389.25 L52.15,389.29 L52.27,391.13 L52.40,390.43 L52.52,391.34 L52.65,393.49 L52.77,393.41 L52.90,394.19 L53.05,396.10 L53.20,396.91 L53.35,397.55 L53.50,397.83 L53.65,399.85 L53.80,400.00 L53.95,401.04 L54.10,402.14 L54.25,402.90 L54.40,403.48 L54.69,405.06 L54.98,405.26 L55.26,406.61 L55.55,407.13 L55.84,407.95 L56.12,409.28 L56.41,409.73 L56.70,410.56 L57.32,411.64 L57.94,412.49 L58.56,413.19 L59.18,413.74 L59.80,414.67 L60.80,415.13 L61.80,415.67 L62.80,416.20" fill="none" stroke="#000" stroke-width="1.5" stroke-linejoin="round" stroke-linecap="round"/>
<rect x="7.80" y="355.55" width="61.40" height="61.35" fill="none" stroke="#000" stroke-width="1.6"/>
<line x1="2.4000000000000004" y1="356.6" x2="7.0" y2="356.6" stroke="#222" stroke-width="1.6"/>
<line x1="2.4000000000000004" y1="376.4" x2="7.0" y2="376.4" stroke="#222" stroke-width="1.6"/>
<line x1="2.4000000000000004" y1="397" x2="7.0" y2="397" stroke="#222" stroke-width="1.6"/>
<line x1="2.4000000000000004" y1="417" x2="7.0" y2="417" stroke="#222" stroke-width="1.6"/>
<line x1="8.6" y1="417.7" x2="8.6" y2="419.7" stroke="#222" stroke-width="1.0"/>
<text x="8.6" y="423.09999999999997" font-size="3.6" font-weight="bold" text-anchor="middle" style="fill:#000">10</text>
<line x1="23.2" y1="417.7" x2="23.2" y2="419.7" stroke="#222" stroke-width="1.0"/>
<text x="23.2" y="423.09999999999997" font-size="3.6" font-weight="bold" text-anchor="middle" style="fill:#000">10</text>
<line x1="38.4" y1="417.7" x2="38.4" y2="419.7" stroke="#222" stroke-width="1.0"/>
<text x="38.4" y="423.09999999999997" font-size="3.6" font-weight="bold" text-anchor="middle" style="fill:#000">10</text>
<line x1="53" y1="417.7" x2="53" y2="419.7" stroke="#222" stroke-width="1.0"/>
<text x="53" y="423.09999999999997" font-size="3.6" font-weight="bold" text-anchor="middle" style="fill:#000">10</text>
<line x1="68.5" y1="417.7" x2="68.5" y2="419.7" stroke="#222" stroke-width="1.0"/>
<text x="68.5" y="423.09999999999997" font-size="3.6" font-weight="bold" text-anchor="middle" style="fill:#000">10</text>
<path d="M93.70,416.00 L93.70,416.00 L93.70,415.09 L93.70,414.12 L93.70,413.32 L93.70,412.29 L93.70,411.55 L93.70,410.64 L93.70,409.53 L93.70,408.89 L93.70,407.87 L93.70,406.61 L93.70,405.81 L93.70,404.76 L93.70,403.75 L93.70,403.61 L93.70,402.54 L93.70,401.10 L93.70,400.28 L93.70,400.06 L93.70,398.64 L93.70,398.06 L93.70,396.91 L93.70,396.43 L93.70,395.66 L93.70,393.37 L93.70,393.44 L93.70,391.66 L93.70,391.96 L93.70,390.45 L93.70,390.15 L93.70,388.73 L93.70,388.29 L93.70,386.42 L93.70,386.56 L93.70,384.46 L93.70,384.03 L93.70,383.96 L93.70,382.53 L93.70,381.30 L93.70,379.40 L93.70,379.83 L93.70,379.26 L93.70,376.46 L93.70,375.73 L93.70,375.20 L93.70,375.52 L93.89,374.85 L94.08,373.67 L94.26,373.30 L94.45,372.45 L94.64,370.12 L94.83,369.48 L95.01,368.07 L95.20,367.74 L95.50,367.95 L95.80,364.77 L96.10,363.93 L96.40,363.35 L96.80,362.38 L97.20,360.92 L97.70,360.85 L98.20,362.20 L98.60,363.89 L99.00,366.08 L99.23,367.22 L99.46,367.77 L99.69,366.90 L99.91,369.61 L100.14,370.49 L100.37,371.29 L100.60,372.94 L100.72,371.37 L100.85,375.07 L100.97,374.28 L101.10,374.33 L101.22,377.00 L101.35,376.97 L101.47,378.45 L101.60,379.67 L101.72,380.64 L101.85,381.71 L101.97,380.93 L102.10,381.97 L102.22,382.66 L102.33,385.41 L102.45,385.02 L102.56,386.70 L102.68,387.02 L102.79,388.14 L102.91,389.50 L103.02,389.30 L103.14,391.87 L103.25,391.59 L103.37,392.38 L103.48,393.85 L103.60,394.67 L103.71,395.11 L103.82,397.08 L103.93,397.56 L104.04,398.41 L104.15,399.79 L104.25,400.42 L104.36,401.71 L104.47,402.56 L104.58,403.46 L104.69,404.39 L104.80,405.62 L105.00,406.34 L105.20,407.31 L105.40,408.39 L105.60,409.12 L105.80,410.18 L106.00,410.87 L106.30,412.01 L106.60,412.96 L106.90,414.00 L107.20,415.00 L107.50,416.00 L107.50,416.00 Z" fill="#8c8c8c" stroke="none" stroke-width="0.8" stroke-linejoin="round"/>
<path d="M77.40,416.00 L77.40,416.00 L77.60,414.60 L78.04,413.73 L78.49,412.90 L78.93,412.06 L79.37,411.00 L79.81,410.23 L80.26,409.36 L80.70,408.49 L80.89,407.47 L81.08,406.84 L81.28,406.00 L81.47,404.75 L81.66,404.07 L81.85,403.05 L82.04,402.02 L82.23,401.06 L82.42,400.17 L82.62,399.98 L82.81,398.80 L83.00,397.48 L83.14,396.59 L83.27,396.41 L83.41,395.50 L83.54,394.51 L83.68,393.80 L83.81,392.61 L83.95,391.15 L84.08,390.62 L84.22,389.82 L84.35,389.45 L84.49,388.12 L84.62,386.31 L84.76,385.87 L84.89,385.36 L85.03,384.42 L85.16,382.98 L85.30,382.14 L85.44,382.29 L85.58,380.37 L85.72,380.02 L85.85,378.77 L85.99,378.40 L86.13,377.19 L86.27,376.31 L86.41,375.29 L86.55,375.15 L86.68,373.82 L86.82,372.03 L86.96,372.29 L87.10,371.08 L87.30,368.81 L87.50,368.97 L87.70,367.90 L87.90,367.17 L88.10,364.66 L88.30,365.71 L88.50,363.27 L88.70,361.69 L88.90,362.60 L89.10,361.02 L89.27,360.85 L89.43,362.25 L89.60,363.82 L89.77,365.60 L89.93,365.40 L90.10,366.48 L90.27,366.47 L90.43,368.43 L90.60,369.03 L90.89,369.39 L91.17,369.96 L91.46,372.00 L91.75,372.86 L92.04,373.37 L92.33,373.57 L92.61,376.11 L92.90,375.41 L93.23,376.85 L93.56,378.43 L93.89,378.73 L94.21,380.27 L94.54,381.63 L94.87,381.25 L95.20,382.81 L95.43,383.47 L95.66,384.43 L95.89,384.68 L96.12,385.84 L96.35,387.87 L96.58,387.92 L96.81,389.02 L97.04,389.93 L97.27,390.34 L97.50,391.81 L97.76,392.62 L98.02,393.02 L98.28,394.44 L98.53,395.28 L98.79,396.15 L99.05,396.73 L99.31,397.78 L99.57,398.62 L99.82,399.81 L100.08,400.99 L100.34,401.37 L100.60,402.36 L100.93,403.06 L101.27,403.92 L101.60,405.16 L101.93,405.93 L102.27,406.83 L102.60,407.32 L102.93,408.47 L103.27,409.30 L103.60,409.92 L104.12,410.75 L104.63,411.64 L105.15,412.26 L105.67,413.03 L106.18,413.84 L106.70,414.60 L107.35,415.30 L108.00,416.00 L108.00,416.00 Z" fill="#cfcfcf" stroke="none" stroke-width="0.8" stroke-linejoin="round"/>
<path d="M101.00,387.76 L101.67,384.56 L102.33,385.01 L103.00,383.65 L103.45,380.96 L103.90,380.84 L104.35,379.68 L104.80,382.16 L105.90,380.10 L106.18,380.14 L106.45,383.42 L106.72,379.89 L107.00,383.98 L107.13,384.97 L107.27,385.70 L107.40,386.87 L107.53,385.49 L107.67,387.63 L107.80,388.76 L107.93,390.04 L108.07,392.23 L108.20,392.33 L108.39,391.46 L108.58,392.59 L108.78,393.36 L108.97,395.93 L109.16,396.94 L109.35,398.17 L109.54,397.85 L109.73,399.12 L109.92,399.80 L110.12,400.64 L110.31,401.35 L110.50,402.64 L110.80,402.82 L111.10,404.71 L111.40,404.56 L111.70,406.01 L112.00,407.53 L112.30,408.12 L112.60,408.81 L112.90,409.84 L113.20,410.63 L113.50,411.70 L114.12,412.56 L114.75,413.19 L115.38,414.20 L116.00,415.00 L117.00,416.00" fill="none" stroke="#ccc" stroke-width="0.9" stroke-linejoin="round" stroke-linecap="round"/>
<path d="M93.70,374.14 L93.89,372.83 L94.08,372.65 L94.26,372.23 L94.45,369.38 L94.64,370.37 L94.83,367.64 L95.01,370.11 L95.20,367.58 L95.50,365.74 L95.80,367.41 L96.10,362.80 L96.40,365.48 L96.80,362.00 L97.20,362.94 L97.70,360.46 L98.20,363.22 L98.60,363.27 L99.00,365.76 L99.23,365.87 L99.46,366.76 L99.69,369.25 L99.91,370.45 L100.14,368.78 L100.37,372.42 L100.60,370.28 L100.74,374.03 L100.88,375.42 L101.02,376.42 L101.16,374.98 L101.30,377.00" fill="none" stroke="#111" stroke-width="1.3" stroke-linejoin="round" stroke-linecap="round"/>
<path d="M102.70,406.83 L102.92,406.32 L103.15,405.17 L103.38,404.63 L103.60,403.01 L103.83,402.30 L104.05,402.03 L104.28,401.26 L104.50,399.45 L104.70,399.48 L104.90,397.31 L105.10,397.25 L105.30,396.43 L105.50,394.86 L105.70,394.42 L105.90,393.01 L106.10,392.91 L106.29,390.36 L106.48,390.72 L106.66,388.59 L106.85,389.31 L107.04,386.78 L107.23,385.36 L107.41,385.96 L107.60,386.02 L107.90,384.08 L108.20,382.33 L108.50,382.58 L108.80,380.61 L109.10,381.05 L109.40,378.88 L109.73,377.11 L110.07,377.24 L110.40,375.49 L110.73,376.62 L111.07,373.15 L111.40,374.88 L112.15,371.22 L112.90,370.28 L113.22,371.54 L113.54,374.10 L113.86,375.94 L114.18,376.73 L114.50,376.34 L114.65,378.11 L114.80,377.60 L114.95,381.19 L115.10,380.85 L115.25,380.60 L115.40,382.31 L115.55,383.39 L115.70,385.55 L115.85,386.28 L116.00,386.81 L116.18,386.16 L116.36,387.27 L116.55,389.71 L116.73,389.05 L116.91,392.00 L117.09,391.72 L117.27,391.93 L117.45,394.14 L117.64,393.96 L117.82,395.46 L118.00,397.46 L118.18,397.87 L118.36,398.57 L118.54,399.77 L118.72,399.97 L118.90,401.62 L119.08,401.75 L119.26,403.24 L119.44,404.37 L119.62,404.75 L119.80,406.08 L120.06,406.63 L120.33,407.43 L120.59,408.55 L120.86,409.60 L121.12,410.76 L121.39,411.50 L121.65,412.60 L122.30,413.42 L122.95,414.48 L123.60,415.41" fill="none" stroke="#555" stroke-width="1.0" stroke-linejoin="round" stroke-linecap="round"/>
<path d="M103.30,406.94 L103.52,406.18 L103.75,405.22 L103.97,403.98 L104.20,403.58 L104.42,402.65 L104.65,400.73 L104.88,400.58 L105.10,398.90 L105.30,397.86 L105.50,397.51 L105.70,397.11 L105.90,396.28 L106.10,393.87 L106.30,394.38 L106.50,392.67 L106.70,391.62 L106.89,391.60 L107.08,389.87 L107.26,389.65 L107.45,387.81 L107.64,386.93 L107.83,386.35 L108.01,385.87 L108.20,384.37 L108.46,384.08 L108.71,383.46 L108.97,382.28 L109.23,379.46 L109.49,379.74 L109.74,377.60 L110.00,379.62 L110.33,375.58 L110.67,376.24 L111.00,374.26 L111.33,374.14 L111.67,372.79 L112.00,373.63 L112.75,370.98 L113.50,372.66 L113.82,373.23 L114.14,375.10 L114.46,374.75 L114.78,375.32 L115.10,377.12 L115.25,375.99 L115.40,379.62 L115.55,378.91 L115.70,380.92 L115.85,380.71 L116.00,381.07 L116.15,382.22 L116.30,385.00 L116.45,385.38 L116.60,385.33 L116.77,385.24 L116.93,388.54 L117.10,387.99 L117.27,388.71 L117.43,389.34 L117.60,391.30 L117.77,391.18 L117.93,392.81 L118.10,392.80 L118.27,395.44 L118.43,394.61 L118.60,396.45 L118.78,397.37 L118.96,398.79 L119.14,399.44 L119.32,399.65 L119.50,400.66 L119.68,402.26 L119.86,402.92 L120.04,404.05 L120.22,404.88 L120.40,405.76 L120.66,406.63 L120.93,407.11 L121.19,408.13 L121.46,409.27 L121.72,410.44 L121.99,411.42 L122.25,412.31 L122.90,413.31 L123.55,414.36 L124.20,415.40" fill="none" stroke="#000" stroke-width="1.6" stroke-linejoin="round" stroke-linecap="round"/>
<rect x="76.60" y="355.55" width="60.20" height="61.05" fill="none" stroke="#000" stroke-width="1.6"/>
<line x1="71.2" y1="356.6" x2="75.8" y2="356.6" stroke="#222" stroke-width="1.6"/>
<line x1="71.2" y1="376.4" x2="75.8" y2="376.4" stroke="#222" stroke-width="1.6"/>
<line x1="71.2" y1="396.6" x2="75.8" y2="396.6" stroke="#222" stroke-width="1.6"/>
<line x1="71.2" y1="416.5" x2="75.8" y2="416.5" stroke="#222" stroke-width="1.6"/>
<line x1="78" y1="417.4" x2="78" y2="419.4" stroke="#222" stroke-width="1.0"/>
<text x="78" y="422.79999999999995" font-size="3.6" font-weight="bold" text-anchor="middle" style="fill:#000">10</text>
<line x1="92" y1="417.4" x2="92" y2="419.4" stroke="#222" stroke-width="1.0"/>
<text x="92" y="422.79999999999995" font-size="3.6" font-weight="bold" text-anchor="middle" style="fill:#000">10</text>
<line x1="107" y1="417.4" x2="107" y2="419.4" stroke="#222" stroke-width="1.0"/>
<text x="107" y="422.79999999999995" font-size="3.6" font-weight="bold" text-anchor="middle" style="fill:#000">10</text>
<line x1="122" y1="417.4" x2="122" y2="419.4" stroke="#222" stroke-width="1.0"/>
<text x="122" y="422.79999999999995" font-size="3.6" font-weight="bold" text-anchor="middle" style="fill:#000">10</text>
<line x1="136.3" y1="417.4" x2="136.3" y2="419.4" stroke="#222" stroke-width="1.0"/>
<text x="136.3" y="422.79999999999995" font-size="3.6" font-weight="bold" text-anchor="middle" style="fill:#000">10</text>
<text x="37.5" y="431.1" font-size="8.7" text-anchor="middle" >CD18-PE</text>
<text x="106.7" y="431.1" font-size="8.6" text-anchor="middle" >CD49d-PE</text>
<rect x="140.30" y="356.80" width="5.10" height="4.80" fill="#fff" stroke="#000" stroke-width="1.8"/>
<text x="149.2" y="362.09999999999997" font-size="8.3" text-anchor="start" >Control</text>
<rect x="140.30" y="365.70" width="5.10" height="4.80" fill="#fff" stroke="#333" stroke-width="1.8"/>
<text x="149.2" y="371.0" font-size="8.3" text-anchor="start" >PKBinh 2h</text>
<rect x="140.30" y="374.80" width="5.10" height="4.80" fill="#fff" stroke="#999" stroke-width="1.8"/>
<text x="149.2" y="380.09999999999997" font-size="8.3" text-anchor="start" >PKBinh 24h</text>
<rect x="140.30" y="383.80" width="5.10" height="4.80" fill="#fff" stroke="#ddd" stroke-width="1.8"/>
<text x="149.2" y="389.09999999999997" font-size="8.3" text-anchor="start" >PKBinh 48h</text>
<rect x="239.20" y="344.40" width="15.30" height="85.60" fill="#000" stroke="#000" stroke-width="1.4"/>
<line x1="268.95" y1="349.4" x2="268.95" y2="347" stroke="#000" stroke-width="1.4"/>
<line x1="266.25" y1="347" x2="271.65" y2="347" stroke="#000" stroke-width="1.4"/>
<rect x="261.20" y="349.80" width="15.50" height="80.20" fill="#777" stroke="#000" stroke-width="1.4"/>
<line x1="292.6" y1="364.9" x2="292.6" y2="360.7" stroke="#000" stroke-width="1.4"/>
<line x1="289.90000000000003" y1="360.7" x2="295.3" y2="360.7" stroke="#000" stroke-width="1.4"/>
<rect x="285.10" y="365.30" width="15.00" height="64.70" fill="#999" stroke="#000" stroke-width="1.4"/>
<line x1="315.95000000000005" y1="370" x2="315.95000000000005" y2="360.7" stroke="#000" stroke-width="1.4"/>
<line x1="313.25000000000006" y1="360.7" x2="318.65000000000003" y2="360.7" stroke="#000" stroke-width="1.4"/>
<rect x="308.50" y="370.40" width="14.90" height="59.60" fill="#d8d8d8" stroke="#000" stroke-width="1.4"/>
<rect x="231.80" y="327.50" width="97.70" height="102.60" fill="none" stroke="#000" stroke-width="1.8"/>
<line x1="226.4" y1="344.5" x2="231.4" y2="344.5" stroke="#000" stroke-width="1.5"/>
<text x="226.9" y="344.0" font-size="8" text-anchor="end" >1</text>
<line x1="226.4" y1="378.4" x2="231.4" y2="378.4" stroke="#000" stroke-width="1.5"/>
<text x="225.4" y="379.29999999999995" font-size="8" text-anchor="end" >0.6</text>
<line x1="226.4" y1="413.5" x2="231.4" y2="413.5" stroke="#000" stroke-width="1.5"/>
<text x="225.4" y="414.5" font-size="8" text-anchor="end" >0.2</text>
<text transform="translate(216.7 422.9) rotate(-90)" font-size="8.3" textLength="89.5" lengthAdjust="spacingAndGlyphs">Intracellular CD18 (FI)</text>
<line x1="248.4" y1="334.8" x2="296.1" y2="334.8" stroke="#000" stroke-width="1.8"/>
<text class="st" transform="translate(271.7 331.80) scale(0.86 1.18)" x="0" y="5.40" font-size="11.5" text-anchor="middle">*</text>
<rect x="374.70" y="343.40" width="15.80" height="87.10" fill="#000" stroke="#000" stroke-width="1.4"/>
<line x1="405.5" y1="355.2" x2="405.5" y2="348" stroke="#000" stroke-width="1.4"/>
<line x1="402.8" y1="348" x2="408.2" y2="348" stroke="#000" stroke-width="1.4"/>
<rect x="397.50" y="355.60" width="16.00" height="74.90" fill="#444" stroke="#000" stroke-width="1.4"/>
<line x1="429.0" y1="365.8" x2="429.0" y2="359.9" stroke="#000" stroke-width="1.4"/>
<line x1="426.3" y1="359.9" x2="431.7" y2="359.9" stroke="#000" stroke-width="1.4"/>
<rect x="421.20" y="366.20" width="15.60" height="64.30" fill="#999" stroke="#000" stroke-width="1.4"/>
<line x1="451.45000000000005" y1="390.3" x2="451.45000000000005" y2="387.6" stroke="#000" stroke-width="1.4"/>
<line x1="448.75000000000006" y1="387.6" x2="454.15000000000003" y2="387.6" stroke="#000" stroke-width="1.4"/>
<rect x="443.80" y="390.70" width="15.30" height="39.80" fill="#d8d8d8" stroke="#000" stroke-width="1.4"/>
<rect x="368.40" y="327.10" width="97.60" height="103.50" fill="none" stroke="#000" stroke-width="1.8"/>
<line x1="363.0" y1="343.4" x2="368.0" y2="343.4" stroke="#000" stroke-width="1.5"/>
<text x="363.59999999999997" y="343.09999999999997" font-size="8" text-anchor="end" >1</text>
<line x1="363.0" y1="378.0" x2="368.0" y2="378.0" stroke="#000" stroke-width="1.5"/>
<text x="363.59999999999997" y="378.9" font-size="8" text-anchor="end" >0.6</text>
<line x1="363.0" y1="412.6" x2="368.0" y2="412.6" stroke="#000" stroke-width="1.5"/>
<text x="363.59999999999997" y="413.5" font-size="8" text-anchor="end" >0.2</text>
<text transform="translate(351.3 422) rotate(-90)" font-size="8.3" textLength="93.5" lengthAdjust="spacingAndGlyphs">Intracellular CD49d (FI)</text>
<line x1="383.4" y1="332.1" x2="453.9" y2="332.1" stroke="#000" stroke-width="1.8"/>
<text class="st" transform="translate(419.4 330.30) scale(0.86 1.18)" x="0" y="5.40" font-size="11.5" text-anchor="middle">*</text>
<line x1="383.4" y1="338" x2="429.1" y2="338" stroke="#000" stroke-width="1.8"/>
<text class="st" transform="translate(405.3 335.60) scale(0.86 1.18)" x="0" y="5.40" font-size="11.5" text-anchor="middle">*</text>
<line x1="404.9" y1="344.7" x2="451" y2="344.7" stroke="#000" stroke-width="1.8"/>
<text class="st" transform="translate(428 342.60) scale(0.86 1.18)" x="0" y="5.40" font-size="11.5" text-anchor="middle">*</text>
<line x1="427.9" y1="352.3" x2="455.9" y2="352.3" stroke="#000" stroke-width="1.8"/>
<text class="st" transform="translate(441.6 350.20) scale(0.86 1.18)" x="0" y="5.40" font-size="11.5" text-anchor="middle">*</text>
<rect x="468.70" y="327.60" width="5.60" height="5.60" fill="#000" stroke="#000" stroke-width="1.1"/>
<text x="477.8" y="333.5" font-size="8.3" text-anchor="start" >Control</text>
<rect x="468.70" y="338.10" width="5.60" height="5.60" fill="#111" stroke="#000" stroke-width="1.1"/>
<text x="477.8" y="344.0" font-size="8.3" text-anchor="start" >PKBinh 2h</text>
<rect x="468.70" y="348.90" width="5.60" height="5.60" fill="#999" stroke="#333" stroke-width="1.1"/>
<text x="477.8" y="354.8" font-size="8.3" text-anchor="start" >PKBinh 24h</text>
<rect x="468.70" y="359.50" width="5.60" height="5.60" fill="#ddd" stroke="#000" stroke-width="1.1"/>
<text x="477.8" y="365.40000000000003" font-size="8.3" text-anchor="start" >PKBinh 48h</text>
</g>
</svg>
</body></html>
